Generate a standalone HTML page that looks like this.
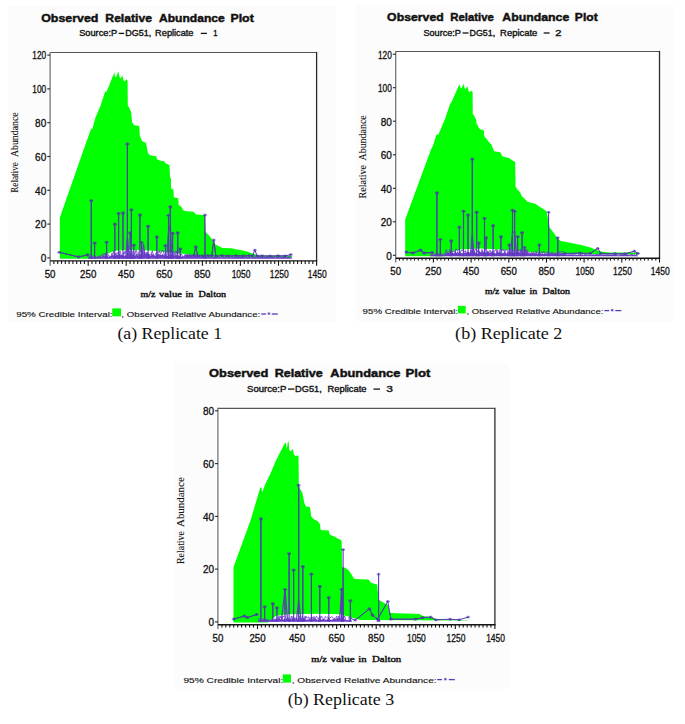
<!DOCTYPE html>
<html><head><meta charset="utf-8">
<style>
html,body{margin:0;padding:0;background:#fff;}
body{width:685px;height:724px;overflow:hidden;}
svg{display:block;}
text{font-family:"Liberation Sans",sans-serif;fill:#111;}
.ti{font-size:12px;font-weight:bold;}
.st{font-size:8.5px;}
.tk{font-size:10px;stroke:#111;stroke-width:0.3px;}
.yl{font-family:"Liberation Serif",serif;font-size:9px;}
.xl{font-family:"Liberation Serif",serif;font-size:9px;font-weight:bold;}
.lg{font-size:7.5px;}
.cp{font-family:"Liberation Serif",serif;font-size:16px;}
</style></head>
<body>
<svg width="685" height="724" viewBox="0 0 685 724">
<rect width="685" height="724" fill="#fff"/>
<rect x="8.3" y="6" width="327" height="316" fill="#fcfcfc"/>
<rect x="356.2" y="4.7" width="317.8" height="317.3" fill="#fcfcfc"/>
<rect x="174" y="363.4" width="335" height="325.6" fill="#fcfcfc"/>
<rect x="50" y="52.5" width="266.6" height="208.4" fill="#fff"/>
<rect x="395.7" y="51.5" width="263.8" height="206.7" fill="#fff"/>
<rect x="217.9" y="408.4" width="277" height="216.3" fill="#fff"/>
<polygon points="59.8,258.7 59.8,217.8 82.6,152.6 89.5,133.3 91.4,128.2 92.2,129.5 95.3,118.1 100.4,105.9 104.5,93.6 105.5,91.1 106.2,92.2 109.6,84.4 112.7,76.2 113.5,75.0 114.2,72.2 115.3,77.5 116.5,76.0 118.3,71.3 119.5,77.0 120.8,78.5 122.3,74.9 123.5,80.5 124.8,81.5 126.5,79.3 127.6,80.5 127.8,105.9 129.0,106.9 130.1,110.0 131.1,112.0 132.1,122.2 133.1,123.8 134.2,125.3 138.2,125.8 139.3,126.3 139.8,135.8 142.0,141.0 146.0,143.0 148.0,153.2 150.1,155.2 156.4,156.3 156.9,159.2 159.8,160.6 164.7,161.6 165.6,163.5 168.5,164.5 169.5,165.5 170.0,177.0 171.0,179.0 171.0,188.6 173.4,189.6 173.8,197.3 178.2,198.3 178.7,205.1 181.6,207.0 183.0,209.9 185.0,210.9 193.6,211.8 195.6,214.3 202.3,215.0 204.8,215.1 205.4,232.1 208.5,234.8 212.0,239.2 215.5,244.4 219.0,246.2 222.5,247.9 231.3,248.3 238.3,249.7 245.3,251.0 250.5,252.7 254.0,254.0 258.0,255.6 292.0,255.8 292.0,258.7 292.0,257.6 210.0,257.6 200.0,256.5 185.0,254.0 165.0,252.0 150.0,250.5 130.0,250.0 115.0,250.8 108.0,253.5 100.0,258.7" fill="#00ff00" />
<clipPath id="gc1"><polygon points="59.8,258.7 59.8,217.8 82.6,152.6 89.5,133.3 91.4,128.2 92.2,129.5 95.3,118.1 100.4,105.9 104.5,93.6 105.5,91.1 106.2,92.2 109.6,84.4 112.7,76.2 113.5,75.0 114.2,72.2 115.3,77.5 116.5,76.0 118.3,71.3 119.5,77.0 120.8,78.5 122.3,74.9 123.5,80.5 124.8,81.5 126.5,79.3 127.6,80.5 127.8,105.9 129.0,106.9 130.1,110.0 131.1,112.0 132.1,122.2 133.1,123.8 134.2,125.3 138.2,125.8 139.3,126.3 139.8,135.8 142.0,141.0 146.0,143.0 148.0,153.2 150.1,155.2 156.4,156.3 156.9,159.2 159.8,160.6 164.7,161.6 165.6,163.5 168.5,164.5 169.5,165.5 170.0,177.0 171.0,179.0 171.0,188.6 173.4,189.6 173.8,197.3 178.2,198.3 178.7,205.1 181.6,207.0 183.0,209.9 185.0,210.9 193.6,211.8 195.6,214.3 202.3,215.0 204.8,215.1 205.4,232.1 208.5,234.8 212.0,239.2 215.5,244.4 219.0,246.2 222.5,247.9 231.3,248.3 238.3,249.7 245.3,251.0 250.5,252.7 254.0,254.0 258.0,255.6 292.0,255.8 292.0,258.7 292.0,257.6 210.0,257.6 200.0,256.5 185.0,254.0 165.0,252.0 150.0,250.5 130.0,250.0 115.0,250.8 108.0,253.5 100.0,258.7" fill="#000" /></clipPath>
<polygon points="88.0,258.7 88.0,257.0 88.9,257.4 89.6,257.4 90.1,256.9 90.7,256.9 91.3,257.2 92.3,256.7 93.4,257.4 94.1,257.3 94.8,256.4 95.6,256.6 96.5,257.4 97.1,256.5 97.8,256.7 98.4,256.4 99.1,256.7 100.1,255.4 101.2,256.7 102.2,256.6 102.7,255.5 103.5,255.1 104.4,255.7 105.2,255.1 106.0,255.5 106.9,255.5 107.9,256.3 108.8,256.9 109.4,256.7 110.4,256.6 111.1,255.1 111.9,255.7 112.9,253.9 113.6,255.3 114.7,255.9 115.3,255.6 116.2,255.6 116.9,255.3 118.0,254.4 118.9,254.4 119.9,254.1 120.9,255.2 121.5,254.5 122.0,255.7 122.7,256.2 123.3,256.0 123.8,253.9 124.4,255.6 125.1,256.0 126.2,255.0 126.8,256.0 127.4,254.0 127.9,253.6 128.5,254.8 129.3,253.6 130.3,255.6 130.9,254.1 131.8,255.4 132.8,253.5 133.8,254.0 134.4,254.9 135.0,256.2 135.6,254.4 136.4,253.7 137.5,255.3 138.1,255.7 139.0,253.8 139.8,254.5 140.3,254.5 141.3,254.2 141.9,254.1 142.9,253.6 143.6,253.6 144.2,255.9 145.2,254.0 146.2,253.6 147.0,254.8 147.5,253.6 148.3,253.7 149.3,254.0 149.9,255.5 150.8,255.6 151.4,253.8 152.2,254.7 152.9,253.7 153.7,254.8 154.5,255.8 155.5,255.8 156.4,254.7 157.2,254.7 157.8,254.7 158.4,254.1 159.3,254.2 160.0,254.6 160.9,254.4 161.7,255.0 162.6,253.8 163.3,254.7 164.3,255.9 165.0,256.1 165.6,254.4 166.6,255.9 167.5,255.9 168.6,255.7 169.3,254.9 170.3,255.8 171.1,255.4 171.8,254.3 172.7,255.1 173.4,254.6 173.9,253.5 175.0,256.0 175.5,254.1 176.1,255.1 177.1,255.6 178.1,254.7 178.7,256.1 179.4,256.1 180.3,255.2 181.3,256.8 182.1,256.2 183.1,256.3 184.0,256.4 184.6,256.8 185.2,256.3 185.9,255.8 186.6,256.9 187.1,255.4 187.8,255.9 188.3,255.2 189.1,255.1 189.9,255.5 190.6,255.2 191.5,256.1 192.0,256.6 193.0,256.4 193.5,255.1 194.4,256.3 195.1,255.9 195.9,256.3 197.0,255.8 198.0,256.2 198.5,256.1 199.3,256.5 199.8,256.3 200.6,256.8 201.3,256.4 202.1,255.3 203.0,255.1 203.7,254.8 204.6,255.5 205.6,256.7 206.6,256.8 207.4,257.2 208.4,256.8 209.4,257.0 210.1,257.7 210.8,257.6 211.6,257.0 212.5,257.2 213.5,256.9 214.3,257.0 215.3,257.5 215.9,256.9 216.9,256.6 217.6,257.2 218.6,257.0 219.1,257.6 220.0,257.4 220.6,257.7 221.5,257.0 222.1,257.2 222.9,257.6 223.5,256.6 224.0,257.2 225.1,257.2 225.7,256.7 226.6,257.6 227.7,257.6 228.5,256.7 229.1,256.7 229.6,257.7 230.4,257.4 231.1,257.4 231.6,256.9 232.2,256.7 233.2,257.4 234.0,256.6 234.7,257.3 235.2,257.6 235.9,256.7 236.5,257.2 237.3,256.7 238.2,257.0 239.3,257.1 239.8,256.9 240.8,257.0 241.3,256.7 242.1,257.4 243.0,256.6 243.9,257.4 244.7,257.6 245.3,256.7 245.9,256.7 246.7,257.6 247.3,257.4 247.9,257.5 248.9,256.9 249.7,257.2 250.4,257.7 251.5,257.6 252.3,256.8 253.0,257.5 253.8,256.7 254.8,257.7 255.7,256.7 256.6,257.7 257.6,256.8 258.7,257.5 259.3,257.2 260.4,256.9 261.3,257.2 261.9,256.9 262.9,257.0 263.5,257.5 264.4,257.6 265.2,257.1 265.8,257.1 266.5,257.2 267.4,256.8 268.1,257.5 269.0,257.4 269.8,257.0 270.4,257.0 271.1,257.7 271.8,257.0 272.8,256.9 273.4,256.7 274.4,257.5 275.4,257.4 276.2,257.5 276.9,257.0 277.5,257.3 278.6,257.6 279.1,257.3 280.2,256.9 281.2,257.4 282.3,256.9 283.2,257.3 283.9,257.6 284.5,257.3 285.1,256.7 285.8,256.8 286.6,257.7 287.3,256.7 288.0,256.7 288.8,256.8 289.3,257.7 290.4,257.5 291.4,257.4 292.0,258.7" fill="#6a3cc8" />
<polyline points="88.0,257.4 88.9,256.3 89.6,256.4 90.1,257.7 90.7,255.6 91.3,256.1 92.3,256.7 93.4,255.5 94.1,257.5 94.8,257.3 95.6,256.7 96.5,257.8 97.1,256.6 97.8,256.5 98.4,255.9 99.1,256.3 100.1,255.8 101.2,255.1 102.2,254.8 102.7,253.6 103.5,255.6 104.4,254.4 105.2,252.9 106.0,257.1 106.9,252.7 107.9,255.3 108.8,254.9 109.4,257.1 110.4,256.0 111.1,256.9 111.9,253.1 112.9,254.6 113.6,250.8 114.7,255.4 115.3,253.2 116.2,257.0 116.9,252.7 118.0,253.0 118.9,256.5 119.9,250.9 120.9,253.8 121.5,256.4 122.0,255.5 122.7,257.0 123.3,254.0 123.8,252.4 124.4,254.1 125.1,251.0 126.2,253.2 126.8,254.2 127.4,255.5 127.9,252.9 128.5,256.7 129.3,250.9 130.3,254.0 130.9,252.9 131.8,255.0 132.8,251.0 133.8,251.6 134.4,254.1 135.0,254.6 135.6,250.4 136.4,250.3 137.5,255.1 138.1,255.2 139.0,251.1 139.8,251.3 140.3,250.7 141.3,253.2 141.9,254.2 142.9,253.8 143.6,251.7 144.2,255.6 145.2,255.6 146.2,252.1 147.0,255.8 147.5,252.2 148.3,253.5 149.3,255.1 149.9,254.9 150.8,253.6 151.4,254.1 152.2,250.7 152.9,253.1 153.7,256.8 154.5,257.0 155.5,253.3 156.4,254.3 157.2,251.4 157.8,254.8 158.4,253.1 159.3,250.7 160.0,253.1 160.9,253.4 161.7,250.5 162.6,250.5 163.3,250.5 164.3,255.9 165.0,254.9 165.6,251.4 166.6,251.8 167.5,250.8 168.6,250.5 169.3,250.3 170.3,253.6 171.1,255.2 171.8,256.8 172.7,256.8 173.4,253.0 173.9,251.4 175.0,254.7 175.5,254.7 176.1,250.7 177.1,255.6 178.1,251.9 178.7,252.0 179.4,250.5 180.3,257.2 181.3,254.1 182.1,255.2 183.1,257.0 184.0,257.1 184.6,256.6 185.2,254.5 185.9,256.8 186.6,256.4 187.1,255.2 187.8,253.9 188.3,255.7 189.1,255.8 189.9,253.8 190.6,254.7 191.5,256.0 192.0,257.3 193.0,256.8 193.5,254.1 194.4,256.5 195.1,256.8 195.9,253.8 197.0,256.4 198.0,256.0 198.5,255.5 199.3,255.4 199.8,257.2 200.6,257.6 201.3,255.1 202.1,254.8 203.0,255.8 203.7,256.9 204.6,257.4 205.6,256.8 206.6,257.8 207.4,256.5 208.4,256.9 209.4,256.7 210.1,257.8 210.8,256.5 211.6,256.8 212.5,258.2 213.5,257.0 214.3,258.0 215.3,258.0 215.9,257.7 216.9,257.1 217.6,256.7 218.6,256.8 219.1,257.6 220.0,256.9 220.6,257.5 221.5,256.7 222.1,257.1 222.9,256.4 223.5,256.3 224.0,256.5 225.1,257.5 225.7,257.6 226.6,257.0 227.7,256.5 228.5,256.7 229.1,257.1 229.6,257.1 230.4,257.8 231.1,256.5 231.6,256.5 232.2,256.7 233.2,257.3 234.0,256.9 234.7,257.5 235.2,256.5 235.9,257.6 236.5,257.7 237.3,256.4 238.2,256.3 239.3,256.7 239.8,257.1 240.8,257.5 241.3,257.8 242.1,257.5 243.0,257.5 243.9,256.9 244.7,257.8 245.3,257.1 245.9,256.2 246.7,257.7 247.3,257.9 247.9,256.9 248.9,257.2 249.7,257.3 250.4,257.5 251.5,257.0 252.3,257.6 253.0,257.2 253.8,256.4 254.8,258.1 255.7,257.1 256.6,257.3 257.6,256.4 258.7,257.9 259.3,256.7 260.4,256.8 261.3,257.0 261.9,257.6 262.9,257.4 263.5,256.8 264.4,258.0 265.2,257.3 265.8,258.2 266.5,256.3 267.4,257.1 268.1,256.3 269.0,258.1 269.8,257.2 270.4,256.3 271.1,257.4 271.8,257.7 272.8,257.0 273.4,257.4 274.4,257.6 275.4,256.3 276.2,257.6 276.9,256.3 277.5,257.6 278.6,258.0 279.1,256.4 280.2,256.2 281.2,257.7 282.3,258.1 283.2,257.3 283.9,258.2 284.5,256.3 285.1,257.7 285.8,256.5 286.6,257.1 287.3,257.7 288.0,258.1 288.8,256.6 289.3,258.0 290.4,256.6 291.4,257.5" fill="none" stroke="#6a3cc8" stroke-width="0.8" />
<polyline points="125.8,257.0 127.4,237.0 129.2,257.0" fill="none" stroke="#6a3cc8" stroke-width="1.3" />
<polyline points="166.8,257.0 168.5,232.0 170.3,225.0 172.0,257.0" fill="none" stroke="#6a3cc8" stroke-width="1.3" />
<polyline points="142.0,257.0 143.5,244.0 145.0,257.0" fill="none" stroke="#6a3cc8" stroke-width="1.3" />
<polygon points="90.0,258.7 91.0,253.4 91.6,254.5 92.6,258.7" fill="#6a3cc8" />
<polygon points="93.3,258.7 94.3,254.8 94.9,256.7 95.9,258.7" fill="#6a3cc8" />
<polygon points="104.5,258.7 106.3,252.8 106.9,254.3 108.7,258.7" fill="#6a3cc8" />
<polygon points="113.8,258.7 114.5,252.0 115.1,254.7 115.8,258.7" fill="#6a3cc8" />
<polygon points="116.5,258.7 118.3,254.1 118.9,254.6 120.7,258.7" fill="#6a3cc8" />
<polygon points="121.7,258.7 122.7,254.5 123.3,255.9 124.3,258.7" fill="#6a3cc8" />
<polygon points="125.3,258.7 127.1,254.0 127.7,256.0 129.5,258.7" fill="#6a3cc8" />
<polygon points="129.5,258.7 131.1,252.6 131.7,253.6 133.3,258.7" fill="#6a3cc8" />
<polygon points="138.2,258.7 139.6,252.7 140.2,254.9 141.6,258.7" fill="#6a3cc8" />
<polygon points="146.7,258.7 147.8,254.8 148.4,255.5 149.5,258.7" fill="#6a3cc8" />
<polygon points="155.6,258.7 156.5,255.8 157.1,256.4 158.0,258.7" fill="#6a3cc8" />
<polygon points="164.4,258.7 165.2,255.1 165.8,256.8 166.6,258.7" fill="#6a3cc8" />
<polygon points="167.1,258.7 168.2,253.7 168.8,254.3 169.9,258.7" fill="#6a3cc8" />
<polygon points="168.1,258.7 170.0,252.2 170.6,254.8 172.5,258.7" fill="#6a3cc8" />
<polygon points="171.5,258.7 172.3,255.8 172.9,256.7 173.7,258.7" fill="#6a3cc8" />
<polygon points="176.2,258.7 177.4,253.0 178.0,255.3 179.2,258.7" fill="#6a3cc8" />
<polygon points="132.1,258.7 133.5,254.3 134.1,255.3 135.5,258.7" fill="#6a3cc8" />
<polygon points="139.5,258.7 141.2,252.8 141.8,254.2 143.5,258.7" fill="#6a3cc8" />
<polygon points="128.2,258.7 129.9,255.7 130.5,256.8 132.2,258.7" fill="#6a3cc8" />
<polygon points="179.0,258.7 180.1,253.6 180.7,254.7 181.8,258.7" fill="#6a3cc8" />
<polygon points="203.7,258.7 204.7,255.3 205.3,256.7 206.3,258.7" fill="#6a3cc8" />
<polyline points="59.1,252.3 78.5,256.9 87.7,254.9" fill="none" stroke="#5a3cb8" stroke-width="1.0" /><path d="M57.3,252.3H60.9M59.1,250.9V253.7" stroke="#5a3cb8" stroke-width="0.9" fill="none"/><path d="M57.8,251.0L60.4,253.6M57.8,253.6L60.4,251.0" stroke="#5a3cb8" stroke-width="0.5" fill="none" opacity="0.6"/><path d="M76.7,256.9H80.3M78.5,255.5V258.3" stroke="#5a3cb8" stroke-width="0.9" fill="none"/><path d="M77.2,255.6L79.8,258.2M77.2,258.2L79.8,255.6" stroke="#5a3cb8" stroke-width="0.5" fill="none" opacity="0.6"/><path d="M85.9,254.9H89.5M87.7,253.5V256.3" stroke="#5a3cb8" stroke-width="0.9" fill="none"/><path d="M86.4,253.6L89.0,256.2M86.4,256.2L89.0,253.6" stroke="#5a3cb8" stroke-width="0.5" fill="none" opacity="0.6"/><polyline points="186.0,255.8 193.7,255.6 195.8,247.0 197.8,255.8 204.0,256.0 208.0,255.6 211.8,255.6 213.8,240.0 215.8,256.0 222.0,255.6 228.0,256.0 236.0,255.6 243.0,256.0 249.0,255.6 252.5,255.8 254.9,250.1 257.2,256.0 262.0,255.8 270.0,256.0 278.0,255.7 285.0,255.9 290.8,254.6" fill="none" stroke="#5a3cb8" stroke-width="1.0" /><path d="M184.2,255.8H187.8M186.0,254.4V257.2" stroke="#5a3cb8" stroke-width="0.9" fill="none"/><path d="M184.7,254.5L187.3,257.1M184.7,257.1L187.3,254.5" stroke="#5a3cb8" stroke-width="0.5" fill="none" opacity="0.6"/><path d="M191.9,255.6H195.5M193.7,254.2V257.0" stroke="#5a3cb8" stroke-width="0.9" fill="none"/><path d="M192.4,254.3L195.0,256.9M192.4,256.9L195.0,254.3" stroke="#5a3cb8" stroke-width="0.5" fill="none" opacity="0.6"/><path d="M194.0,247.0H197.6M195.8,245.6V248.4" stroke="#5a3cb8" stroke-width="0.9" fill="none"/><path d="M194.5,245.7L197.1,248.3M194.5,248.3L197.1,245.7" stroke="#5a3cb8" stroke-width="0.5" fill="none" opacity="0.6"/><path d="M196.0,255.8H199.6M197.8,254.4V257.2" stroke="#5a3cb8" stroke-width="0.9" fill="none"/><path d="M196.5,254.5L199.1,257.1M196.5,257.1L199.1,254.5" stroke="#5a3cb8" stroke-width="0.5" fill="none" opacity="0.6"/><path d="M202.2,256.0H205.8M204.0,254.6V257.4" stroke="#5a3cb8" stroke-width="0.9" fill="none"/><path d="M202.7,254.7L205.3,257.3M202.7,257.3L205.3,254.7" stroke="#5a3cb8" stroke-width="0.5" fill="none" opacity="0.6"/><path d="M206.2,255.6H209.8M208.0,254.2V257.0" stroke="#5a3cb8" stroke-width="0.9" fill="none"/><path d="M206.7,254.3L209.3,256.9M206.7,256.9L209.3,254.3" stroke="#5a3cb8" stroke-width="0.5" fill="none" opacity="0.6"/><path d="M210.0,255.6H213.6M211.8,254.2V257.0" stroke="#5a3cb8" stroke-width="0.9" fill="none"/><path d="M210.5,254.3L213.1,256.9M210.5,256.9L213.1,254.3" stroke="#5a3cb8" stroke-width="0.5" fill="none" opacity="0.6"/><path d="M212.0,240.0H215.6M213.8,238.6V241.4" stroke="#5a3cb8" stroke-width="0.9" fill="none"/><path d="M212.5,238.7L215.1,241.3M212.5,241.3L215.1,238.7" stroke="#5a3cb8" stroke-width="0.5" fill="none" opacity="0.6"/><path d="M214.0,256.0H217.6M215.8,254.6V257.4" stroke="#5a3cb8" stroke-width="0.9" fill="none"/><path d="M214.5,254.7L217.1,257.3M214.5,257.3L217.1,254.7" stroke="#5a3cb8" stroke-width="0.5" fill="none" opacity="0.6"/><path d="M220.2,255.6H223.8M222.0,254.2V257.0" stroke="#5a3cb8" stroke-width="0.9" fill="none"/><path d="M220.7,254.3L223.3,256.9M220.7,256.9L223.3,254.3" stroke="#5a3cb8" stroke-width="0.5" fill="none" opacity="0.6"/><path d="M226.2,256.0H229.8M228.0,254.6V257.4" stroke="#5a3cb8" stroke-width="0.9" fill="none"/><path d="M226.7,254.7L229.3,257.3M226.7,257.3L229.3,254.7" stroke="#5a3cb8" stroke-width="0.5" fill="none" opacity="0.6"/><path d="M234.2,255.6H237.8M236.0,254.2V257.0" stroke="#5a3cb8" stroke-width="0.9" fill="none"/><path d="M234.7,254.3L237.3,256.9M234.7,256.9L237.3,254.3" stroke="#5a3cb8" stroke-width="0.5" fill="none" opacity="0.6"/><path d="M241.2,256.0H244.8M243.0,254.6V257.4" stroke="#5a3cb8" stroke-width="0.9" fill="none"/><path d="M241.7,254.7L244.3,257.3M241.7,257.3L244.3,254.7" stroke="#5a3cb8" stroke-width="0.5" fill="none" opacity="0.6"/><path d="M247.2,255.6H250.8M249.0,254.2V257.0" stroke="#5a3cb8" stroke-width="0.9" fill="none"/><path d="M247.7,254.3L250.3,256.9M247.7,256.9L250.3,254.3" stroke="#5a3cb8" stroke-width="0.5" fill="none" opacity="0.6"/><path d="M250.7,255.8H254.3M252.5,254.4V257.2" stroke="#5a3cb8" stroke-width="0.9" fill="none"/><path d="M251.2,254.5L253.8,257.1M251.2,257.1L253.8,254.5" stroke="#5a3cb8" stroke-width="0.5" fill="none" opacity="0.6"/><path d="M253.1,250.1H256.7M254.9,248.7V251.5" stroke="#5a3cb8" stroke-width="0.9" fill="none"/><path d="M253.6,248.8L256.2,251.4M253.6,251.4L256.2,248.8" stroke="#5a3cb8" stroke-width="0.5" fill="none" opacity="0.6"/><path d="M255.4,256.0H259.0M257.2,254.6V257.4" stroke="#5a3cb8" stroke-width="0.9" fill="none"/><path d="M255.9,254.7L258.5,257.3M255.9,257.3L258.5,254.7" stroke="#5a3cb8" stroke-width="0.5" fill="none" opacity="0.6"/><path d="M260.2,255.8H263.8M262.0,254.4V257.2" stroke="#5a3cb8" stroke-width="0.9" fill="none"/><path d="M260.7,254.5L263.3,257.1M260.7,257.1L263.3,254.5" stroke="#5a3cb8" stroke-width="0.5" fill="none" opacity="0.6"/><path d="M268.2,256.0H271.8M270.0,254.6V257.4" stroke="#5a3cb8" stroke-width="0.9" fill="none"/><path d="M268.7,254.7L271.3,257.3M268.7,257.3L271.3,254.7" stroke="#5a3cb8" stroke-width="0.5" fill="none" opacity="0.6"/><path d="M276.2,255.7H279.8M278.0,254.3V257.1" stroke="#5a3cb8" stroke-width="0.9" fill="none"/><path d="M276.7,254.4L279.3,257.0M276.7,257.0L279.3,254.4" stroke="#5a3cb8" stroke-width="0.5" fill="none" opacity="0.6"/><path d="M283.2,255.9H286.8M285.0,254.5V257.3" stroke="#5a3cb8" stroke-width="0.9" fill="none"/><path d="M283.7,254.6L286.3,257.2M283.7,257.2L286.3,254.6" stroke="#5a3cb8" stroke-width="0.5" fill="none" opacity="0.6"/><path d="M289.0,254.6H292.6M290.8,253.2V256.0" stroke="#5a3cb8" stroke-width="0.9" fill="none"/><path d="M289.5,253.3L292.1,255.9M289.5,255.9L292.1,253.3" stroke="#5a3cb8" stroke-width="0.5" fill="none" opacity="0.6"/><line x1="91.3" y1="258.2" x2="91.3" y2="200.7" stroke="#5a3cb8" stroke-width="1.1"/><path d="M89.5,200.7H93.1M91.3,199.3V202.1" stroke="#5a3cb8" stroke-width="0.9" fill="none"/><path d="M90.0,199.4L92.6,202.0M90.0,202.0L92.6,199.4" stroke="#5a3cb8" stroke-width="0.5" fill="none" opacity="0.6"/><line x1="94.6" y1="258.2" x2="94.6" y2="243.1" stroke="#5a3cb8" stroke-width="1.1"/><path d="M92.8,243.1H96.4M94.6,241.7V244.5" stroke="#5a3cb8" stroke-width="0.9" fill="none"/><path d="M93.3,241.8L95.9,244.4M93.3,244.4L95.9,241.8" stroke="#5a3cb8" stroke-width="0.5" fill="none" opacity="0.6"/><line x1="106.6" y1="258.2" x2="106.6" y2="242.3" stroke="#5a3cb8" stroke-width="1.1"/><path d="M104.8,242.3H108.4M106.6,240.9V243.7" stroke="#5a3cb8" stroke-width="0.9" fill="none"/><path d="M105.3,241.0L107.9,243.6M105.3,243.6L107.9,241.0" stroke="#5a3cb8" stroke-width="0.5" fill="none" opacity="0.6"/><line x1="114.8" y1="258.2" x2="114.8" y2="224.2" stroke="#5a3cb8" stroke-width="1.1"/><path d="M113.0,224.2H116.6M114.8,222.8V225.6" stroke="#5a3cb8" stroke-width="0.9" fill="none"/><path d="M113.5,222.9L116.1,225.5M113.5,225.5L116.1,222.9" stroke="#5a3cb8" stroke-width="0.5" fill="none" opacity="0.6"/><line x1="118.6" y1="258.2" x2="118.6" y2="213.5" stroke="#5a3cb8" stroke-width="1.1"/><path d="M116.8,213.5H120.4M118.6,212.1V214.9" stroke="#5a3cb8" stroke-width="0.9" fill="none"/><path d="M117.3,212.2L119.9,214.8M117.3,214.8L119.9,212.2" stroke="#5a3cb8" stroke-width="0.5" fill="none" opacity="0.6"/><line x1="123.0" y1="258.2" x2="123.0" y2="213.0" stroke="#5a3cb8" stroke-width="1.1"/><path d="M121.2,213.0H124.8M123.0,211.6V214.4" stroke="#5a3cb8" stroke-width="0.9" fill="none"/><path d="M121.7,211.7L124.3,214.3M121.7,214.3L124.3,211.7" stroke="#5a3cb8" stroke-width="0.5" fill="none" opacity="0.6"/><line x1="127.4" y1="258.2" x2="127.4" y2="144.0" stroke="#5a3cb8" stroke-width="1.1"/><path d="M125.6,144.0H129.2M127.4,142.6V145.4" stroke="#5a3cb8" stroke-width="0.9" fill="none"/><path d="M126.1,142.7L128.7,145.3M126.1,145.3L128.7,142.7" stroke="#5a3cb8" stroke-width="0.5" fill="none" opacity="0.6"/><line x1="131.4" y1="258.2" x2="131.4" y2="209.9" stroke="#5a3cb8" stroke-width="1.1"/><path d="M129.6,209.9H133.2M131.4,208.5V211.3" stroke="#5a3cb8" stroke-width="0.9" fill="none"/><path d="M130.1,208.6L132.7,211.2M130.1,211.2L132.7,208.6" stroke="#5a3cb8" stroke-width="0.5" fill="none" opacity="0.6"/><line x1="139.9" y1="258.2" x2="139.9" y2="215.0" stroke="#5a3cb8" stroke-width="1.1"/><path d="M138.1,215.0H141.7M139.9,213.6V216.4" stroke="#5a3cb8" stroke-width="0.9" fill="none"/><path d="M138.6,213.7L141.2,216.3M138.6,216.3L141.2,213.7" stroke="#5a3cb8" stroke-width="0.5" fill="none" opacity="0.6"/><line x1="148.1" y1="258.2" x2="148.1" y2="226.3" stroke="#5a3cb8" stroke-width="1.1"/><path d="M146.3,226.3H149.9M148.1,224.9V227.7" stroke="#5a3cb8" stroke-width="0.9" fill="none"/><path d="M146.8,225.0L149.4,227.6M146.8,227.6L149.4,225.0" stroke="#5a3cb8" stroke-width="0.5" fill="none" opacity="0.6"/><line x1="156.8" y1="258.2" x2="156.8" y2="237.0" stroke="#5a3cb8" stroke-width="1.1"/><path d="M155.0,237.0H158.6M156.8,235.6V238.4" stroke="#5a3cb8" stroke-width="0.9" fill="none"/><path d="M155.5,235.7L158.1,238.3M155.5,238.3L158.1,235.7" stroke="#5a3cb8" stroke-width="0.5" fill="none" opacity="0.6"/><line x1="165.5" y1="258.2" x2="165.5" y2="245.7" stroke="#5a3cb8" stroke-width="1.1"/><path d="M163.7,245.7H167.3M165.5,244.3V247.1" stroke="#5a3cb8" stroke-width="0.9" fill="none"/><path d="M164.2,244.4L166.8,247.0M164.2,247.0L166.8,244.4" stroke="#5a3cb8" stroke-width="0.5" fill="none" opacity="0.6"/><line x1="168.5" y1="258.2" x2="168.5" y2="215.5" stroke="#5a3cb8" stroke-width="1.1"/><path d="M166.7,215.5H170.3M168.5,214.1V216.9" stroke="#5a3cb8" stroke-width="0.9" fill="none"/><path d="M167.2,214.2L169.8,216.8M167.2,216.8L169.8,214.2" stroke="#5a3cb8" stroke-width="0.5" fill="none" opacity="0.6"/><line x1="170.3" y1="258.2" x2="170.3" y2="206.9" stroke="#5a3cb8" stroke-width="1.1"/><path d="M168.5,206.9H172.1M170.3,205.5V208.3" stroke="#5a3cb8" stroke-width="0.9" fill="none"/><path d="M169.0,205.6L171.6,208.2M169.0,208.2L171.6,205.6" stroke="#5a3cb8" stroke-width="0.5" fill="none" opacity="0.6"/><line x1="172.6" y1="258.2" x2="172.6" y2="233.4" stroke="#5a3cb8" stroke-width="1.1"/><path d="M170.8,233.4H174.4M172.6,232.0V234.8" stroke="#5a3cb8" stroke-width="0.9" fill="none"/><path d="M171.3,232.1L173.9,234.7M171.3,234.7L173.9,232.1" stroke="#5a3cb8" stroke-width="0.5" fill="none" opacity="0.6"/><line x1="177.7" y1="258.2" x2="177.7" y2="232.9" stroke="#5a3cb8" stroke-width="1.1"/><path d="M175.9,232.9H179.5M177.7,231.5V234.3" stroke="#5a3cb8" stroke-width="0.9" fill="none"/><path d="M176.4,231.6L179.0,234.2M176.4,234.2L179.0,231.6" stroke="#5a3cb8" stroke-width="0.5" fill="none" opacity="0.6"/><line x1="133.8" y1="258.2" x2="133.8" y2="245.2" stroke="#5a3cb8" stroke-width="1.1"/><path d="M132.0,245.2H135.6M133.8,243.8V246.6" stroke="#5a3cb8" stroke-width="0.9" fill="none"/><path d="M132.5,243.9L135.1,246.5M132.5,246.5L135.1,243.9" stroke="#5a3cb8" stroke-width="0.5" fill="none" opacity="0.6"/><line x1="141.5" y1="258.2" x2="141.5" y2="242.6" stroke="#5a3cb8" stroke-width="1.1"/><path d="M139.7,242.6H143.3M141.5,241.2V244.0" stroke="#5a3cb8" stroke-width="0.9" fill="none"/><path d="M140.2,241.3L142.8,243.9M140.2,243.9L142.8,241.3" stroke="#5a3cb8" stroke-width="0.5" fill="none" opacity="0.6"/><line x1="130.2" y1="258.2" x2="130.2" y2="232.9" stroke="#5a3cb8" stroke-width="1.1"/><path d="M128.4,232.9H132.0M130.2,231.5V234.3" stroke="#5a3cb8" stroke-width="0.9" fill="none"/><path d="M128.9,231.6L131.5,234.2M128.9,234.2L131.5,231.6" stroke="#5a3cb8" stroke-width="0.5" fill="none" opacity="0.6"/><line x1="180.4" y1="258.2" x2="180.4" y2="249.0" stroke="#5a3cb8" stroke-width="1.1"/><path d="M178.6,249.0H182.2M180.4,247.6V250.4" stroke="#5a3cb8" stroke-width="0.9" fill="none"/><path d="M179.1,247.7L181.7,250.3M179.1,250.3L181.7,247.7" stroke="#5a3cb8" stroke-width="0.5" fill="none" opacity="0.6"/><line x1="205.0" y1="258.2" x2="205.0" y2="215.0" stroke="#5a3cb8" stroke-width="1.1"/><path d="M203.2,215.0H206.8M205.0,213.6V216.4" stroke="#5a3cb8" stroke-width="0.9" fill="none"/><path d="M203.7,213.7L206.3,216.3M203.7,216.3L206.3,213.7" stroke="#5a3cb8" stroke-width="0.5" fill="none" opacity="0.6"/>
<g clip-path="url(#gc1)"><polyline points="59.1,252.3 78.5,256.9 87.7,254.9" fill="none" stroke="#464a96" stroke-width="1.0" /><path d="M57.3,252.3H60.9M59.1,250.9V253.7" stroke="#464a96" stroke-width="0.9" fill="none"/><path d="M57.8,251.0L60.4,253.6M57.8,253.6L60.4,251.0" stroke="#464a96" stroke-width="0.5" fill="none" opacity="0.6"/><path d="M76.7,256.9H80.3M78.5,255.5V258.3" stroke="#464a96" stroke-width="0.9" fill="none"/><path d="M77.2,255.6L79.8,258.2M77.2,258.2L79.8,255.6" stroke="#464a96" stroke-width="0.5" fill="none" opacity="0.6"/><path d="M85.9,254.9H89.5M87.7,253.5V256.3" stroke="#464a96" stroke-width="0.9" fill="none"/><path d="M86.4,253.6L89.0,256.2M86.4,256.2L89.0,253.6" stroke="#464a96" stroke-width="0.5" fill="none" opacity="0.6"/><polyline points="186.0,255.8 193.7,255.6 195.8,247.0 197.8,255.8 204.0,256.0 208.0,255.6 211.8,255.6 213.8,240.0 215.8,256.0 222.0,255.6 228.0,256.0 236.0,255.6 243.0,256.0 249.0,255.6 252.5,255.8 254.9,250.1 257.2,256.0 262.0,255.8 270.0,256.0 278.0,255.7 285.0,255.9 290.8,254.6" fill="none" stroke="#464a96" stroke-width="1.0" /><path d="M184.2,255.8H187.8M186.0,254.4V257.2" stroke="#464a96" stroke-width="0.9" fill="none"/><path d="M184.7,254.5L187.3,257.1M184.7,257.1L187.3,254.5" stroke="#464a96" stroke-width="0.5" fill="none" opacity="0.6"/><path d="M191.9,255.6H195.5M193.7,254.2V257.0" stroke="#464a96" stroke-width="0.9" fill="none"/><path d="M192.4,254.3L195.0,256.9M192.4,256.9L195.0,254.3" stroke="#464a96" stroke-width="0.5" fill="none" opacity="0.6"/><path d="M194.0,247.0H197.6M195.8,245.6V248.4" stroke="#464a96" stroke-width="0.9" fill="none"/><path d="M194.5,245.7L197.1,248.3M194.5,248.3L197.1,245.7" stroke="#464a96" stroke-width="0.5" fill="none" opacity="0.6"/><path d="M196.0,255.8H199.6M197.8,254.4V257.2" stroke="#464a96" stroke-width="0.9" fill="none"/><path d="M196.5,254.5L199.1,257.1M196.5,257.1L199.1,254.5" stroke="#464a96" stroke-width="0.5" fill="none" opacity="0.6"/><path d="M202.2,256.0H205.8M204.0,254.6V257.4" stroke="#464a96" stroke-width="0.9" fill="none"/><path d="M202.7,254.7L205.3,257.3M202.7,257.3L205.3,254.7" stroke="#464a96" stroke-width="0.5" fill="none" opacity="0.6"/><path d="M206.2,255.6H209.8M208.0,254.2V257.0" stroke="#464a96" stroke-width="0.9" fill="none"/><path d="M206.7,254.3L209.3,256.9M206.7,256.9L209.3,254.3" stroke="#464a96" stroke-width="0.5" fill="none" opacity="0.6"/><path d="M210.0,255.6H213.6M211.8,254.2V257.0" stroke="#464a96" stroke-width="0.9" fill="none"/><path d="M210.5,254.3L213.1,256.9M210.5,256.9L213.1,254.3" stroke="#464a96" stroke-width="0.5" fill="none" opacity="0.6"/><path d="M212.0,240.0H215.6M213.8,238.6V241.4" stroke="#464a96" stroke-width="0.9" fill="none"/><path d="M212.5,238.7L215.1,241.3M212.5,241.3L215.1,238.7" stroke="#464a96" stroke-width="0.5" fill="none" opacity="0.6"/><path d="M214.0,256.0H217.6M215.8,254.6V257.4" stroke="#464a96" stroke-width="0.9" fill="none"/><path d="M214.5,254.7L217.1,257.3M214.5,257.3L217.1,254.7" stroke="#464a96" stroke-width="0.5" fill="none" opacity="0.6"/><path d="M220.2,255.6H223.8M222.0,254.2V257.0" stroke="#464a96" stroke-width="0.9" fill="none"/><path d="M220.7,254.3L223.3,256.9M220.7,256.9L223.3,254.3" stroke="#464a96" stroke-width="0.5" fill="none" opacity="0.6"/><path d="M226.2,256.0H229.8M228.0,254.6V257.4" stroke="#464a96" stroke-width="0.9" fill="none"/><path d="M226.7,254.7L229.3,257.3M226.7,257.3L229.3,254.7" stroke="#464a96" stroke-width="0.5" fill="none" opacity="0.6"/><path d="M234.2,255.6H237.8M236.0,254.2V257.0" stroke="#464a96" stroke-width="0.9" fill="none"/><path d="M234.7,254.3L237.3,256.9M234.7,256.9L237.3,254.3" stroke="#464a96" stroke-width="0.5" fill="none" opacity="0.6"/><path d="M241.2,256.0H244.8M243.0,254.6V257.4" stroke="#464a96" stroke-width="0.9" fill="none"/><path d="M241.7,254.7L244.3,257.3M241.7,257.3L244.3,254.7" stroke="#464a96" stroke-width="0.5" fill="none" opacity="0.6"/><path d="M247.2,255.6H250.8M249.0,254.2V257.0" stroke="#464a96" stroke-width="0.9" fill="none"/><path d="M247.7,254.3L250.3,256.9M247.7,256.9L250.3,254.3" stroke="#464a96" stroke-width="0.5" fill="none" opacity="0.6"/><path d="M250.7,255.8H254.3M252.5,254.4V257.2" stroke="#464a96" stroke-width="0.9" fill="none"/><path d="M251.2,254.5L253.8,257.1M251.2,257.1L253.8,254.5" stroke="#464a96" stroke-width="0.5" fill="none" opacity="0.6"/><path d="M253.1,250.1H256.7M254.9,248.7V251.5" stroke="#464a96" stroke-width="0.9" fill="none"/><path d="M253.6,248.8L256.2,251.4M253.6,251.4L256.2,248.8" stroke="#464a96" stroke-width="0.5" fill="none" opacity="0.6"/><path d="M255.4,256.0H259.0M257.2,254.6V257.4" stroke="#464a96" stroke-width="0.9" fill="none"/><path d="M255.9,254.7L258.5,257.3M255.9,257.3L258.5,254.7" stroke="#464a96" stroke-width="0.5" fill="none" opacity="0.6"/><path d="M260.2,255.8H263.8M262.0,254.4V257.2" stroke="#464a96" stroke-width="0.9" fill="none"/><path d="M260.7,254.5L263.3,257.1M260.7,257.1L263.3,254.5" stroke="#464a96" stroke-width="0.5" fill="none" opacity="0.6"/><path d="M268.2,256.0H271.8M270.0,254.6V257.4" stroke="#464a96" stroke-width="0.9" fill="none"/><path d="M268.7,254.7L271.3,257.3M268.7,257.3L271.3,254.7" stroke="#464a96" stroke-width="0.5" fill="none" opacity="0.6"/><path d="M276.2,255.7H279.8M278.0,254.3V257.1" stroke="#464a96" stroke-width="0.9" fill="none"/><path d="M276.7,254.4L279.3,257.0M276.7,257.0L279.3,254.4" stroke="#464a96" stroke-width="0.5" fill="none" opacity="0.6"/><path d="M283.2,255.9H286.8M285.0,254.5V257.3" stroke="#464a96" stroke-width="0.9" fill="none"/><path d="M283.7,254.6L286.3,257.2M283.7,257.2L286.3,254.6" stroke="#464a96" stroke-width="0.5" fill="none" opacity="0.6"/><path d="M289.0,254.6H292.6M290.8,253.2V256.0" stroke="#464a96" stroke-width="0.9" fill="none"/><path d="M289.5,253.3L292.1,255.9M289.5,255.9L292.1,253.3" stroke="#464a96" stroke-width="0.5" fill="none" opacity="0.6"/><line x1="91.3" y1="258.2" x2="91.3" y2="200.7" stroke="#464a96" stroke-width="1.1"/><path d="M89.5,200.7H93.1M91.3,199.3V202.1" stroke="#464a96" stroke-width="0.9" fill="none"/><path d="M90.0,199.4L92.6,202.0M90.0,202.0L92.6,199.4" stroke="#464a96" stroke-width="0.5" fill="none" opacity="0.6"/><line x1="94.6" y1="258.2" x2="94.6" y2="243.1" stroke="#464a96" stroke-width="1.1"/><path d="M92.8,243.1H96.4M94.6,241.7V244.5" stroke="#464a96" stroke-width="0.9" fill="none"/><path d="M93.3,241.8L95.9,244.4M93.3,244.4L95.9,241.8" stroke="#464a96" stroke-width="0.5" fill="none" opacity="0.6"/><line x1="106.6" y1="258.2" x2="106.6" y2="242.3" stroke="#464a96" stroke-width="1.1"/><path d="M104.8,242.3H108.4M106.6,240.9V243.7" stroke="#464a96" stroke-width="0.9" fill="none"/><path d="M105.3,241.0L107.9,243.6M105.3,243.6L107.9,241.0" stroke="#464a96" stroke-width="0.5" fill="none" opacity="0.6"/><line x1="114.8" y1="258.2" x2="114.8" y2="224.2" stroke="#464a96" stroke-width="1.1"/><path d="M113.0,224.2H116.6M114.8,222.8V225.6" stroke="#464a96" stroke-width="0.9" fill="none"/><path d="M113.5,222.9L116.1,225.5M113.5,225.5L116.1,222.9" stroke="#464a96" stroke-width="0.5" fill="none" opacity="0.6"/><line x1="118.6" y1="258.2" x2="118.6" y2="213.5" stroke="#464a96" stroke-width="1.1"/><path d="M116.8,213.5H120.4M118.6,212.1V214.9" stroke="#464a96" stroke-width="0.9" fill="none"/><path d="M117.3,212.2L119.9,214.8M117.3,214.8L119.9,212.2" stroke="#464a96" stroke-width="0.5" fill="none" opacity="0.6"/><line x1="123.0" y1="258.2" x2="123.0" y2="213.0" stroke="#464a96" stroke-width="1.1"/><path d="M121.2,213.0H124.8M123.0,211.6V214.4" stroke="#464a96" stroke-width="0.9" fill="none"/><path d="M121.7,211.7L124.3,214.3M121.7,214.3L124.3,211.7" stroke="#464a96" stroke-width="0.5" fill="none" opacity="0.6"/><line x1="127.4" y1="258.2" x2="127.4" y2="144.0" stroke="#464a96" stroke-width="1.1"/><path d="M125.6,144.0H129.2M127.4,142.6V145.4" stroke="#464a96" stroke-width="0.9" fill="none"/><path d="M126.1,142.7L128.7,145.3M126.1,145.3L128.7,142.7" stroke="#464a96" stroke-width="0.5" fill="none" opacity="0.6"/><line x1="131.4" y1="258.2" x2="131.4" y2="209.9" stroke="#464a96" stroke-width="1.1"/><path d="M129.6,209.9H133.2M131.4,208.5V211.3" stroke="#464a96" stroke-width="0.9" fill="none"/><path d="M130.1,208.6L132.7,211.2M130.1,211.2L132.7,208.6" stroke="#464a96" stroke-width="0.5" fill="none" opacity="0.6"/><line x1="139.9" y1="258.2" x2="139.9" y2="215.0" stroke="#464a96" stroke-width="1.1"/><path d="M138.1,215.0H141.7M139.9,213.6V216.4" stroke="#464a96" stroke-width="0.9" fill="none"/><path d="M138.6,213.7L141.2,216.3M138.6,216.3L141.2,213.7" stroke="#464a96" stroke-width="0.5" fill="none" opacity="0.6"/><line x1="148.1" y1="258.2" x2="148.1" y2="226.3" stroke="#464a96" stroke-width="1.1"/><path d="M146.3,226.3H149.9M148.1,224.9V227.7" stroke="#464a96" stroke-width="0.9" fill="none"/><path d="M146.8,225.0L149.4,227.6M146.8,227.6L149.4,225.0" stroke="#464a96" stroke-width="0.5" fill="none" opacity="0.6"/><line x1="156.8" y1="258.2" x2="156.8" y2="237.0" stroke="#464a96" stroke-width="1.1"/><path d="M155.0,237.0H158.6M156.8,235.6V238.4" stroke="#464a96" stroke-width="0.9" fill="none"/><path d="M155.5,235.7L158.1,238.3M155.5,238.3L158.1,235.7" stroke="#464a96" stroke-width="0.5" fill="none" opacity="0.6"/><line x1="165.5" y1="258.2" x2="165.5" y2="245.7" stroke="#464a96" stroke-width="1.1"/><path d="M163.7,245.7H167.3M165.5,244.3V247.1" stroke="#464a96" stroke-width="0.9" fill="none"/><path d="M164.2,244.4L166.8,247.0M164.2,247.0L166.8,244.4" stroke="#464a96" stroke-width="0.5" fill="none" opacity="0.6"/><line x1="168.5" y1="258.2" x2="168.5" y2="215.5" stroke="#464a96" stroke-width="1.1"/><path d="M166.7,215.5H170.3M168.5,214.1V216.9" stroke="#464a96" stroke-width="0.9" fill="none"/><path d="M167.2,214.2L169.8,216.8M167.2,216.8L169.8,214.2" stroke="#464a96" stroke-width="0.5" fill="none" opacity="0.6"/><line x1="170.3" y1="258.2" x2="170.3" y2="206.9" stroke="#464a96" stroke-width="1.1"/><path d="M168.5,206.9H172.1M170.3,205.5V208.3" stroke="#464a96" stroke-width="0.9" fill="none"/><path d="M169.0,205.6L171.6,208.2M169.0,208.2L171.6,205.6" stroke="#464a96" stroke-width="0.5" fill="none" opacity="0.6"/><line x1="172.6" y1="258.2" x2="172.6" y2="233.4" stroke="#464a96" stroke-width="1.1"/><path d="M170.8,233.4H174.4M172.6,232.0V234.8" stroke="#464a96" stroke-width="0.9" fill="none"/><path d="M171.3,232.1L173.9,234.7M171.3,234.7L173.9,232.1" stroke="#464a96" stroke-width="0.5" fill="none" opacity="0.6"/><line x1="177.7" y1="258.2" x2="177.7" y2="232.9" stroke="#464a96" stroke-width="1.1"/><path d="M175.9,232.9H179.5M177.7,231.5V234.3" stroke="#464a96" stroke-width="0.9" fill="none"/><path d="M176.4,231.6L179.0,234.2M176.4,234.2L179.0,231.6" stroke="#464a96" stroke-width="0.5" fill="none" opacity="0.6"/><line x1="133.8" y1="258.2" x2="133.8" y2="245.2" stroke="#464a96" stroke-width="1.1"/><path d="M132.0,245.2H135.6M133.8,243.8V246.6" stroke="#464a96" stroke-width="0.9" fill="none"/><path d="M132.5,243.9L135.1,246.5M132.5,246.5L135.1,243.9" stroke="#464a96" stroke-width="0.5" fill="none" opacity="0.6"/><line x1="141.5" y1="258.2" x2="141.5" y2="242.6" stroke="#464a96" stroke-width="1.1"/><path d="M139.7,242.6H143.3M141.5,241.2V244.0" stroke="#464a96" stroke-width="0.9" fill="none"/><path d="M140.2,241.3L142.8,243.9M140.2,243.9L142.8,241.3" stroke="#464a96" stroke-width="0.5" fill="none" opacity="0.6"/><line x1="130.2" y1="258.2" x2="130.2" y2="232.9" stroke="#464a96" stroke-width="1.1"/><path d="M128.4,232.9H132.0M130.2,231.5V234.3" stroke="#464a96" stroke-width="0.9" fill="none"/><path d="M128.9,231.6L131.5,234.2M128.9,234.2L131.5,231.6" stroke="#464a96" stroke-width="0.5" fill="none" opacity="0.6"/><line x1="180.4" y1="258.2" x2="180.4" y2="249.0" stroke="#464a96" stroke-width="1.1"/><path d="M178.6,249.0H182.2M180.4,247.6V250.4" stroke="#464a96" stroke-width="0.9" fill="none"/><path d="M179.1,247.7L181.7,250.3M179.1,250.3L181.7,247.7" stroke="#464a96" stroke-width="0.5" fill="none" opacity="0.6"/><line x1="205.0" y1="258.2" x2="205.0" y2="215.0" stroke="#464a96" stroke-width="1.1"/><path d="M203.2,215.0H206.8M205.0,213.6V216.4" stroke="#464a96" stroke-width="0.9" fill="none"/><path d="M203.7,213.7L206.3,216.3M203.7,216.3L206.3,213.7" stroke="#464a96" stroke-width="0.5" fill="none" opacity="0.6"/></g>
<line x1="50.1" y1="52.5" x2="316.6" y2="52.5" stroke="#555" stroke-width="1.2"/>
<line x1="316.6" y1="51.9" x2="316.6" y2="260.9" stroke="#2a2a2a" stroke-width="1.3"/>
<line x1="50.1" y1="51.9" x2="50.1" y2="265.7" stroke="#777" stroke-width="1.3"/>
<line x1="50.1" y1="260.9" x2="317.2" y2="260.9" stroke="#151515" stroke-width="1.4"/>
<line x1="53.9" y1="260.9" x2="53.9" y2="263.9" stroke="#151515" stroke-width="1.1"/>
<line x1="57.7" y1="260.9" x2="57.7" y2="263.9" stroke="#151515" stroke-width="1.1"/>
<line x1="61.5" y1="260.9" x2="61.5" y2="263.9" stroke="#151515" stroke-width="1.1"/>
<line x1="65.3" y1="260.9" x2="65.3" y2="263.9" stroke="#151515" stroke-width="1.1"/>
<line x1="69.1" y1="260.9" x2="69.1" y2="263.9" stroke="#151515" stroke-width="1.1"/>
<line x1="72.9" y1="260.9" x2="72.9" y2="263.9" stroke="#151515" stroke-width="1.1"/>
<line x1="76.7" y1="260.9" x2="76.7" y2="263.9" stroke="#151515" stroke-width="1.1"/>
<line x1="80.6" y1="260.9" x2="80.6" y2="263.9" stroke="#151515" stroke-width="1.1"/>
<line x1="84.4" y1="260.9" x2="84.4" y2="263.9" stroke="#151515" stroke-width="1.1"/>
<line x1="88.2" y1="260.9" x2="88.2" y2="265.7" stroke="#151515" stroke-width="1.1"/>
<line x1="92.0" y1="260.9" x2="92.0" y2="263.9" stroke="#151515" stroke-width="1.1"/>
<line x1="95.8" y1="260.9" x2="95.8" y2="263.9" stroke="#151515" stroke-width="1.1"/>
<line x1="99.6" y1="260.9" x2="99.6" y2="263.9" stroke="#151515" stroke-width="1.1"/>
<line x1="103.4" y1="260.9" x2="103.4" y2="263.9" stroke="#151515" stroke-width="1.1"/>
<line x1="107.2" y1="260.9" x2="107.2" y2="263.9" stroke="#151515" stroke-width="1.1"/>
<line x1="111.0" y1="260.9" x2="111.0" y2="263.9" stroke="#151515" stroke-width="1.1"/>
<line x1="114.8" y1="260.9" x2="114.8" y2="263.9" stroke="#151515" stroke-width="1.1"/>
<line x1="118.6" y1="260.9" x2="118.6" y2="263.9" stroke="#151515" stroke-width="1.1"/>
<line x1="122.4" y1="260.9" x2="122.4" y2="263.9" stroke="#151515" stroke-width="1.1"/>
<line x1="126.2" y1="260.9" x2="126.2" y2="265.7" stroke="#151515" stroke-width="1.1"/>
<line x1="130.0" y1="260.9" x2="130.0" y2="263.9" stroke="#151515" stroke-width="1.1"/>
<line x1="133.9" y1="260.9" x2="133.9" y2="263.9" stroke="#151515" stroke-width="1.1"/>
<line x1="137.7" y1="260.9" x2="137.7" y2="263.9" stroke="#151515" stroke-width="1.1"/>
<line x1="141.5" y1="260.9" x2="141.5" y2="263.9" stroke="#151515" stroke-width="1.1"/>
<line x1="145.3" y1="260.9" x2="145.3" y2="263.9" stroke="#151515" stroke-width="1.1"/>
<line x1="149.1" y1="260.9" x2="149.1" y2="263.9" stroke="#151515" stroke-width="1.1"/>
<line x1="152.9" y1="260.9" x2="152.9" y2="263.9" stroke="#151515" stroke-width="1.1"/>
<line x1="156.7" y1="260.9" x2="156.7" y2="263.9" stroke="#151515" stroke-width="1.1"/>
<line x1="160.5" y1="260.9" x2="160.5" y2="263.9" stroke="#151515" stroke-width="1.1"/>
<line x1="164.3" y1="260.9" x2="164.3" y2="265.7" stroke="#151515" stroke-width="1.1"/>
<line x1="168.1" y1="260.9" x2="168.1" y2="263.9" stroke="#151515" stroke-width="1.1"/>
<line x1="171.9" y1="260.9" x2="171.9" y2="263.9" stroke="#151515" stroke-width="1.1"/>
<line x1="175.7" y1="260.9" x2="175.7" y2="263.9" stroke="#151515" stroke-width="1.1"/>
<line x1="179.5" y1="260.9" x2="179.5" y2="263.9" stroke="#151515" stroke-width="1.1"/>
<line x1="183.3" y1="260.9" x2="183.3" y2="263.9" stroke="#151515" stroke-width="1.1"/>
<line x1="187.2" y1="260.9" x2="187.2" y2="263.9" stroke="#151515" stroke-width="1.1"/>
<line x1="191.0" y1="260.9" x2="191.0" y2="263.9" stroke="#151515" stroke-width="1.1"/>
<line x1="194.8" y1="260.9" x2="194.8" y2="263.9" stroke="#151515" stroke-width="1.1"/>
<line x1="198.6" y1="260.9" x2="198.6" y2="263.9" stroke="#151515" stroke-width="1.1"/>
<line x1="202.4" y1="260.9" x2="202.4" y2="265.7" stroke="#151515" stroke-width="1.1"/>
<line x1="206.2" y1="260.9" x2="206.2" y2="263.9" stroke="#151515" stroke-width="1.1"/>
<line x1="210.0" y1="260.9" x2="210.0" y2="263.9" stroke="#151515" stroke-width="1.1"/>
<line x1="213.8" y1="260.9" x2="213.8" y2="263.9" stroke="#151515" stroke-width="1.1"/>
<line x1="217.6" y1="260.9" x2="217.6" y2="263.9" stroke="#151515" stroke-width="1.1"/>
<line x1="221.4" y1="260.9" x2="221.4" y2="263.9" stroke="#151515" stroke-width="1.1"/>
<line x1="225.2" y1="260.9" x2="225.2" y2="263.9" stroke="#151515" stroke-width="1.1"/>
<line x1="229.0" y1="260.9" x2="229.0" y2="263.9" stroke="#151515" stroke-width="1.1"/>
<line x1="232.8" y1="260.9" x2="232.8" y2="263.9" stroke="#151515" stroke-width="1.1"/>
<line x1="236.6" y1="260.9" x2="236.6" y2="263.9" stroke="#151515" stroke-width="1.1"/>
<line x1="240.4" y1="260.9" x2="240.4" y2="265.7" stroke="#151515" stroke-width="1.1"/>
<line x1="244.3" y1="260.9" x2="244.3" y2="263.9" stroke="#151515" stroke-width="1.1"/>
<line x1="248.1" y1="260.9" x2="248.1" y2="263.9" stroke="#151515" stroke-width="1.1"/>
<line x1="251.9" y1="260.9" x2="251.9" y2="263.9" stroke="#151515" stroke-width="1.1"/>
<line x1="255.7" y1="260.9" x2="255.7" y2="263.9" stroke="#151515" stroke-width="1.1"/>
<line x1="259.5" y1="260.9" x2="259.5" y2="263.9" stroke="#151515" stroke-width="1.1"/>
<line x1="263.3" y1="260.9" x2="263.3" y2="263.9" stroke="#151515" stroke-width="1.1"/>
<line x1="267.1" y1="260.9" x2="267.1" y2="263.9" stroke="#151515" stroke-width="1.1"/>
<line x1="270.9" y1="260.9" x2="270.9" y2="263.9" stroke="#151515" stroke-width="1.1"/>
<line x1="274.7" y1="260.9" x2="274.7" y2="263.9" stroke="#151515" stroke-width="1.1"/>
<line x1="278.5" y1="260.9" x2="278.5" y2="265.7" stroke="#151515" stroke-width="1.1"/>
<line x1="282.3" y1="260.9" x2="282.3" y2="263.9" stroke="#151515" stroke-width="1.1"/>
<line x1="286.1" y1="260.9" x2="286.1" y2="263.9" stroke="#151515" stroke-width="1.1"/>
<line x1="289.9" y1="260.9" x2="289.9" y2="263.9" stroke="#151515" stroke-width="1.1"/>
<line x1="293.7" y1="260.9" x2="293.7" y2="263.9" stroke="#151515" stroke-width="1.1"/>
<line x1="297.6" y1="260.9" x2="297.6" y2="263.9" stroke="#151515" stroke-width="1.1"/>
<line x1="301.4" y1="260.9" x2="301.4" y2="263.9" stroke="#151515" stroke-width="1.1"/>
<line x1="305.2" y1="260.9" x2="305.2" y2="263.9" stroke="#151515" stroke-width="1.1"/>
<line x1="309.0" y1="260.9" x2="309.0" y2="263.9" stroke="#151515" stroke-width="1.1"/>
<line x1="312.8" y1="260.9" x2="312.8" y2="263.9" stroke="#151515" stroke-width="1.1"/>
<line x1="316.6" y1="260.9" x2="316.6" y2="265.7" stroke="#151515" stroke-width="1.1"/>
<text transform="translate(50.1,278.2) scale(0.97,1)" text-anchor="middle" class="tk">50</text>
<text transform="translate(88.2,278.2) scale(0.97,1)" text-anchor="middle" class="tk">250</text>
<text transform="translate(126.2,278.2) scale(0.97,1)" text-anchor="middle" class="tk">450</text>
<text transform="translate(164.3,278.2) scale(0.97,1)" text-anchor="middle" class="tk">650</text>
<text transform="translate(202.4,278.2) scale(0.97,1)" text-anchor="middle" class="tk">850</text>
<text transform="translate(241.1,278.2) scale(0.85,1)" text-anchor="middle" class="tk">1050</text>
<text transform="translate(279.2,278.2) scale(0.85,1)" text-anchor="middle" class="tk">1250</text>
<text transform="translate(317.3,278.2) scale(0.85,1)" text-anchor="middle" class="tk">1450</text>
<line x1="47.3" y1="257.9" x2="50.1" y2="257.9" stroke="#222" stroke-width="1.1"/>
<text transform="translate(46.2,262.2) scale(1.0,1)" text-anchor="end" class="tk">0</text>
<line x1="47.3" y1="224.1" x2="50.1" y2="224.1" stroke="#222" stroke-width="1.1"/>
<text transform="translate(46.2,228.4) scale(1.0,1)" text-anchor="end" class="tk">20</text>
<line x1="47.3" y1="190.3" x2="50.1" y2="190.3" stroke="#222" stroke-width="1.1"/>
<text transform="translate(46.2,194.6) scale(1.0,1)" text-anchor="end" class="tk">40</text>
<line x1="47.3" y1="156.5" x2="50.1" y2="156.5" stroke="#222" stroke-width="1.1"/>
<text transform="translate(46.2,160.8) scale(1.0,1)" text-anchor="end" class="tk">60</text>
<line x1="47.3" y1="122.7" x2="50.1" y2="122.7" stroke="#222" stroke-width="1.1"/>
<text transform="translate(46.2,127.0) scale(1.0,1)" text-anchor="end" class="tk">80</text>
<line x1="47.3" y1="88.9" x2="50.1" y2="88.9" stroke="#222" stroke-width="1.1"/>
<text transform="translate(46.2,93.2) scale(0.83,1)" text-anchor="end" class="tk">100</text>
<line x1="47.3" y1="55.1" x2="50.1" y2="55.1" stroke="#222" stroke-width="1.1"/>
<text transform="translate(46.2,59.4) scale(0.83,1)" text-anchor="end" class="tk">120</text>
<polygon points="405.2,256.2 405.2,219.4 430.8,150.0 433.2,145.0 436.2,135.3 437.3,134.3 438.2,135.0 445.4,117.9 450.0,104.1 451.6,102.1 455.7,92.4 458.7,85.7 459.7,84.7 460.8,88.5 462.0,87.5 463.3,83.5 464.1,86.5 465.4,89.5 466.9,86.5 467.8,87.5 468.9,92.0 470.5,91.4 472.0,90.8 472.6,92.4 472.8,114.3 474.0,114.9 475.1,117.9 476.1,118.9 476.6,124.0 477.6,125.1 478.6,127.6 480.2,129.2 483.8,130.2 484.3,136.3 486.3,138.4 488.4,141.4 491.4,144.5 494.1,151.2 500.3,152.2 502.3,156.3 509.4,158.3 512.5,160.4 515.2,162.0 515.6,186.8 517.6,189.8 520.0,191.9 521.7,196.0 524.8,199.0 527.8,202.1 535.3,203.8 540.4,207.2 546.6,211.3 549.6,227.6 553.7,232.7 557.8,238.8 560.9,240.9 571.1,242.9 581.3,245.0 590.5,247.6 596.6,250.1 601.7,251.7 610.0,252.5 638.5,252.5 638.5,256.2 638.5,254.5 560.0,254.0 540.0,253.0 520.0,251.0 500.0,249.5 480.0,248.5 460.0,249.5 452.0,252.0 445.0,256.2" fill="#00ff00" />
<clipPath id="gc2"><polygon points="405.2,256.2 405.2,219.4 430.8,150.0 433.2,145.0 436.2,135.3 437.3,134.3 438.2,135.0 445.4,117.9 450.0,104.1 451.6,102.1 455.7,92.4 458.7,85.7 459.7,84.7 460.8,88.5 462.0,87.5 463.3,83.5 464.1,86.5 465.4,89.5 466.9,86.5 467.8,87.5 468.9,92.0 470.5,91.4 472.0,90.8 472.6,92.4 472.8,114.3 474.0,114.9 475.1,117.9 476.1,118.9 476.6,124.0 477.6,125.1 478.6,127.6 480.2,129.2 483.8,130.2 484.3,136.3 486.3,138.4 488.4,141.4 491.4,144.5 494.1,151.2 500.3,152.2 502.3,156.3 509.4,158.3 512.5,160.4 515.2,162.0 515.6,186.8 517.6,189.8 520.0,191.9 521.7,196.0 524.8,199.0 527.8,202.1 535.3,203.8 540.4,207.2 546.6,211.3 549.6,227.6 553.7,232.7 557.8,238.8 560.9,240.9 571.1,242.9 581.3,245.0 590.5,247.6 596.6,250.1 601.7,251.7 610.0,252.5 638.5,252.5 638.5,256.2 638.5,254.5 560.0,254.0 540.0,253.0 520.0,251.0 500.0,249.5 480.0,248.5 460.0,249.5 452.0,252.0 445.0,256.2" fill="#000" /></clipPath>
<polygon points="430.0,256.3 430.0,255.2 430.8,255.0 431.9,254.8 432.9,254.6 433.5,254.8 434.5,254.3 435.2,255.2 436.3,254.7 437.0,254.4 437.6,254.5 438.2,254.7 438.8,254.9 439.4,255.1 440.3,255.1 441.0,254.6 441.7,255.1 442.6,255.3 443.3,254.7 443.8,255.2 444.6,255.0 445.7,252.9 446.4,252.6 447.5,252.7 448.4,253.2 449.5,252.5 450.2,251.2 450.8,253.7 451.7,251.1 452.6,252.7 453.1,252.9 454.2,253.5 455.2,250.9 455.8,251.0 456.5,253.6 457.3,251.1 458.3,253.3 458.9,252.6 459.9,253.2 460.6,252.3 461.2,253.1 462.3,253.7 463.2,253.7 463.8,252.0 464.7,252.9 465.5,252.5 466.3,252.5 467.1,252.3 468.1,251.5 468.7,252.4 469.3,252.5 470.1,252.3 470.9,253.5 471.9,252.3 472.7,252.7 473.3,251.3 474.2,251.4 475.3,252.3 476.4,253.3 477.4,253.6 478.4,253.3 479.0,251.4 479.8,251.1 480.5,252.3 481.0,253.2 482.1,251.8 482.7,251.5 483.5,251.9 484.5,252.1 485.6,253.5 486.4,252.6 487.1,250.9 487.8,251.5 488.4,251.6 489.4,253.0 490.5,252.1 491.2,253.8 491.8,252.0 492.6,251.1 493.2,251.9 493.7,252.7 494.4,253.1 495.3,253.2 496.1,253.4 496.7,253.3 497.6,251.2 498.3,253.0 499.2,252.1 500.1,252.5 501.1,253.0 501.6,252.2 502.2,253.6 502.7,252.2 503.3,253.2 504.1,251.9 504.7,252.9 505.3,251.2 506.2,253.8 507.1,252.4 507.9,253.1 508.5,253.7 509.5,251.7 510.4,253.0 511.2,251.5 511.8,251.9 512.5,251.2 513.1,253.1 514.2,251.6 515.2,252.8 516.3,251.9 517.2,250.9 518.2,251.7 518.9,251.6 519.6,253.2 520.2,251.1 520.7,253.5 521.4,253.4 521.9,251.7 522.8,251.6 523.7,252.7 524.7,251.2 525.7,251.1 526.3,253.2 526.8,251.3 527.7,251.4 528.3,253.5 529.3,253.2 530.0,254.3 530.7,252.8 531.4,252.2 532.4,253.0 533.2,253.4 533.9,252.8 534.5,252.4 535.5,254.0 536.1,252.7 536.6,253.3 537.6,254.0 538.3,252.5 539.4,253.7 540.3,253.3 541.2,254.2 542.1,252.6 542.8,253.5 543.8,254.2 544.4,253.9 545.4,253.3 546.4,253.9 547.2,252.7 548.1,253.6 548.7,252.5 549.7,254.0 550.6,253.1 551.4,252.4 552.0,253.7 553.0,254.0 553.7,253.6 554.3,253.6 555.4,252.7 556.4,254.2 557.5,252.6 558.3,253.9 558.9,253.9 559.4,253.5 560.3,253.3 561.1,254.1 561.8,252.7 562.6,253.1 563.3,253.9 564.3,252.6 565.4,254.7 566.1,255.1 566.7,255.0 567.6,254.7 568.4,254.9 569.1,254.7 569.7,254.7 570.5,254.9 571.0,254.8 572.0,254.4 572.5,254.8 573.4,254.9 574.4,254.9 575.5,255.2 576.2,254.6 577.3,255.0 578.0,255.0 578.8,255.0 579.5,255.1 580.4,254.4 581.0,254.6 581.7,255.3 582.7,254.7 583.5,255.2 584.2,254.7 585.2,254.9 586.0,255.3 586.7,254.5 587.5,255.1 588.1,255.4 588.7,255.1 589.5,255.0 590.4,255.0 591.4,255.3 592.5,254.6 593.5,254.7 594.0,254.4 594.6,255.3 595.3,254.6 595.9,254.5 596.5,254.5 597.4,254.7 598.4,254.5 599.3,254.8 600.1,254.5 600.7,255.2 601.5,255.3 602.1,254.9 603.0,254.5 604.0,254.9 604.9,254.5 605.6,254.4 606.5,254.7 607.4,254.7 608.1,254.4 608.8,254.5 609.8,254.7 610.8,255.0 611.6,254.6 612.4,255.0 613.4,255.1 614.1,254.9 614.9,254.4 615.9,255.1 616.6,254.8 617.5,255.4 618.6,254.8 619.2,255.4 620.3,254.8 621.3,254.4 622.1,254.7 623.0,254.7 623.9,254.9 624.5,255.2 625.4,254.4 626.2,254.5 627.0,255.1 627.7,255.1 628.6,254.4 629.5,255.4 630.5,254.8 631.2,255.4 632.1,254.4 632.9,255.0 633.7,255.2 634.3,255.4 634.8,254.4 635.9,255.3 636.8,255.1 637.4,255.3 638.0,256.3" fill="#6a3cc8" />
<polyline points="430.0,253.5 430.8,254.6 431.9,255.0 432.9,253.3 433.5,253.7 434.5,255.6 435.2,255.1 436.3,253.4 437.0,254.4 437.6,253.4 438.2,254.1 438.8,255.2 439.4,254.1 440.3,255.7 441.0,255.1 441.7,253.7 442.6,255.4 443.3,254.0 443.8,253.9 444.6,254.8 445.7,251.0 446.4,249.5 447.5,253.2 448.4,254.7 449.5,249.7 450.2,251.6 450.8,251.1 451.7,254.0 452.6,251.3 453.1,251.2 454.2,251.4 455.2,253.2 455.8,248.9 456.5,249.2 457.3,250.7 458.3,249.8 458.9,249.5 459.9,253.1 460.6,252.0 461.2,250.2 462.3,251.0 463.2,249.6 463.8,251.1 464.7,251.8 465.5,250.5 466.3,254.6 467.1,253.0 468.1,251.6 468.7,253.9 469.3,254.0 470.1,254.4 470.9,250.1 471.9,254.3 472.7,249.0 473.3,248.8 474.2,253.3 475.3,249.0 476.4,249.8 477.4,252.2 478.4,249.3 479.0,253.6 479.8,253.2 480.5,252.4 481.0,253.5 482.1,249.3 482.7,253.8 483.5,252.2 484.5,250.9 485.6,248.8 486.4,249.8 487.1,250.9 487.8,251.7 488.4,254.4 489.4,250.6 490.5,250.5 491.2,254.5 491.8,251.8 492.6,253.7 493.2,254.6 493.7,253.9 494.4,250.9 495.3,250.7 496.1,249.1 496.7,254.0 497.6,249.9 498.3,254.7 499.2,252.2 500.1,249.1 501.1,249.3 501.6,251.9 502.2,249.9 502.7,249.1 503.3,250.8 504.1,249.7 504.7,252.6 505.3,249.9 506.2,249.6 507.1,250.1 507.9,253.9 508.5,252.3 509.5,249.5 510.4,251.1 511.2,251.2 511.8,249.0 512.5,254.7 513.1,250.1 514.2,252.4 515.2,253.0 516.3,250.3 517.2,251.5 518.2,249.5 518.9,251.0 519.6,250.7 520.2,253.6 520.7,249.1 521.4,254.5 521.9,250.6 522.8,254.2 523.7,249.7 524.7,254.2 525.7,249.1 526.3,253.9 526.8,249.7 527.7,250.6 528.3,254.0 529.3,252.4 530.0,253.8 530.7,253.2 531.4,252.7 532.4,255.0 533.2,251.6 533.9,252.5 534.5,254.6 535.5,255.2 536.1,250.9 536.6,252.7 537.6,252.7 538.3,253.7 539.4,254.0 540.3,254.5 541.2,251.6 542.1,252.2 542.8,253.1 543.8,251.2 544.4,253.7 545.4,253.2 546.4,252.8 547.2,251.7 548.1,253.4 548.7,252.0 549.7,252.9 550.6,254.4 551.4,253.9 552.0,251.9 553.0,254.3 553.7,252.6 554.3,254.1 555.4,254.6 556.4,253.2 557.5,251.8 558.3,252.1 558.9,253.2 559.4,251.5 560.3,252.1 561.1,252.3 561.8,251.1 562.6,251.7 563.3,251.8 564.3,251.9 565.4,254.4 566.1,254.4 566.7,254.2 567.6,255.2 568.4,254.4 569.1,253.9 569.7,254.2 570.5,253.8 571.0,255.4 572.0,254.6 572.5,254.6 573.4,254.4 574.4,254.8 575.5,254.3 576.2,255.5 577.3,255.6 578.0,255.8 578.8,254.3 579.5,255.2 580.4,254.6 581.0,254.9 581.7,254.2 582.7,254.7 583.5,253.9 584.2,254.1 585.2,255.1 586.0,254.1 586.7,255.1 587.5,254.8 588.1,254.3 588.7,255.0 589.5,254.4 590.4,253.9 591.4,254.1 592.5,255.4 593.5,255.8 594.0,254.4 594.6,255.4 595.3,255.0 595.9,254.1 596.5,254.5 597.4,254.0 598.4,255.3 599.3,254.2 600.1,254.6 600.7,255.4 601.5,254.7 602.1,254.7 603.0,255.8 604.0,254.5 604.9,254.9 605.6,255.6 606.5,255.7 607.4,253.9 608.1,254.6 608.8,255.7 609.8,255.0 610.8,254.7 611.6,255.2 612.4,254.6 613.4,254.1 614.1,255.1 614.9,254.4 615.9,255.0 616.6,254.4 617.5,254.3 618.6,255.7 619.2,255.3 620.3,254.4 621.3,254.4 622.1,254.3 623.0,255.2 623.9,254.2 624.5,255.7 625.4,254.4 626.2,254.1 627.0,255.0 627.7,254.8 628.6,255.6 629.5,255.5 630.5,253.9 631.2,254.9 632.1,253.8 632.9,255.5 633.7,255.4 634.3,254.3 634.8,255.5 635.9,255.7 636.8,254.2 637.4,254.2" fill="none" stroke="#6a3cc8" stroke-width="0.8" />
<polyline points="470.5,255.0 472.3,233.7 474.0,255.0" fill="none" stroke="#6a3cc8" stroke-width="1.3" />
<polyline points="510.5,255.0 512.5,232.0 514.6,232.0 516.5,255.0" fill="none" stroke="#6a3cc8" stroke-width="1.3" />
<polygon points="435.0,256.3 436.6,250.0 437.2,252.9 438.8,256.3" fill="#6a3cc8" />
<polygon points="438.5,256.3 440.1,251.0 440.7,252.7 442.3,256.3" fill="#6a3cc8" />
<polygon points="449.9,256.3 450.9,249.6 451.5,250.4 452.5,256.3" fill="#6a3cc8" />
<polygon points="458.4,256.3 459.1,250.6 459.7,253.4 460.4,256.3" fill="#6a3cc8" />
<polygon points="461.5,256.3 463.2,250.9 463.8,253.4 465.5,256.3" fill="#6a3cc8" />
<polygon points="466.1,256.3 467.7,252.4 468.3,254.1 469.9,256.3" fill="#6a3cc8" />
<polygon points="470.7,256.3 472.0,249.9 472.6,253.0 473.9,256.3" fill="#6a3cc8" />
<polygon points="475.0,256.3 476.4,252.1 477.0,253.5 478.4,256.3" fill="#6a3cc8" />
<polygon points="477.6,256.3 478.5,250.8 479.1,251.8 480.0,256.3" fill="#6a3cc8" />
<polygon points="482.7,256.3 484.2,252.2 484.8,253.2 486.3,256.3" fill="#6a3cc8" />
<polygon points="484.5,256.3 485.7,251.9 486.3,252.7 487.5,256.3" fill="#6a3cc8" />
<polygon points="491.2,256.3 492.8,249.5 493.4,251.4 495.0,256.3" fill="#6a3cc8" />
<polygon points="499.8,256.3 500.6,252.5 501.2,252.9 502.0,256.3" fill="#6a3cc8" />
<polygon points="507.4,256.3 509.1,250.6 509.7,252.7 511.4,256.3" fill="#6a3cc8" />
<polygon points="510.3,256.3 512.2,251.1 512.8,251.9 514.7,256.3" fill="#6a3cc8" />
<polygon points="513.2,256.3 514.3,251.1 514.9,252.8 516.0,256.3" fill="#6a3cc8" />
<polygon points="516.1,256.3 517.3,249.8 517.9,251.3 519.1,256.3" fill="#6a3cc8" />
<polygon points="520.0,256.3 521.8,251.1 522.4,252.0 524.2,256.3" fill="#6a3cc8" />
<polygon points="523.5,256.3 524.2,252.5 524.8,254.0 525.5,256.3" fill="#6a3cc8" />
<polygon points="537.7,256.3 539.1,251.9 539.7,252.7 541.1,256.3" fill="#6a3cc8" />
<polygon points="547.5,256.3 548.3,249.8 548.9,250.9 549.7,256.3" fill="#6a3cc8" />
<polygon points="555.8,256.3 557.5,250.1 558.1,251.8 559.8,256.3" fill="#6a3cc8" />
<polyline points="406.2,252.1 413.0,253.0 420.5,250.1 424.0,253.0 432.0,252.5" fill="none" stroke="#5a3cb8" stroke-width="1.0" /><path d="M404.4,252.1H408.0M406.2,250.7V253.5" stroke="#5a3cb8" stroke-width="0.9" fill="none"/><path d="M404.9,250.8L407.5,253.4M404.9,253.4L407.5,250.8" stroke="#5a3cb8" stroke-width="0.5" fill="none" opacity="0.6"/><path d="M411.2,253.0H414.8M413.0,251.6V254.4" stroke="#5a3cb8" stroke-width="0.9" fill="none"/><path d="M411.7,251.7L414.3,254.3M411.7,254.3L414.3,251.7" stroke="#5a3cb8" stroke-width="0.5" fill="none" opacity="0.6"/><path d="M418.7,250.1H422.3M420.5,248.7V251.5" stroke="#5a3cb8" stroke-width="0.9" fill="none"/><path d="M419.2,248.8L421.8,251.4M419.2,251.4L421.8,248.8" stroke="#5a3cb8" stroke-width="0.5" fill="none" opacity="0.6"/><path d="M422.2,253.0H425.8M424.0,251.6V254.4" stroke="#5a3cb8" stroke-width="0.9" fill="none"/><path d="M422.7,251.7L425.3,254.3M422.7,254.3L425.3,251.7" stroke="#5a3cb8" stroke-width="0.5" fill="none" opacity="0.6"/><path d="M430.2,252.5H433.8M432.0,251.1V253.9" stroke="#5a3cb8" stroke-width="0.9" fill="none"/><path d="M430.7,251.2L433.3,253.8M430.7,253.8L433.3,251.2" stroke="#5a3cb8" stroke-width="0.5" fill="none" opacity="0.6"/><polyline points="565.0,253.5 580.0,253.2 590.0,253.5 597.7,248.4 601.0,253.6 615.0,253.6 625.0,253.8 634.4,251.1 638.0,253.5" fill="none" stroke="#5a3cb8" stroke-width="1.0" /><path d="M563.2,253.5H566.8M565.0,252.1V254.9" stroke="#5a3cb8" stroke-width="0.9" fill="none"/><path d="M563.7,252.2L566.3,254.8M563.7,254.8L566.3,252.2" stroke="#5a3cb8" stroke-width="0.5" fill="none" opacity="0.6"/><path d="M578.2,253.2H581.8M580.0,251.8V254.6" stroke="#5a3cb8" stroke-width="0.9" fill="none"/><path d="M578.7,251.9L581.3,254.5M578.7,254.5L581.3,251.9" stroke="#5a3cb8" stroke-width="0.5" fill="none" opacity="0.6"/><path d="M588.2,253.5H591.8M590.0,252.1V254.9" stroke="#5a3cb8" stroke-width="0.9" fill="none"/><path d="M588.7,252.2L591.3,254.8M588.7,254.8L591.3,252.2" stroke="#5a3cb8" stroke-width="0.5" fill="none" opacity="0.6"/><path d="M595.9,248.4H599.5M597.7,247.0V249.8" stroke="#5a3cb8" stroke-width="0.9" fill="none"/><path d="M596.4,247.1L599.0,249.7M596.4,249.7L599.0,247.1" stroke="#5a3cb8" stroke-width="0.5" fill="none" opacity="0.6"/><path d="M599.2,253.6H602.8M601.0,252.2V255.0" stroke="#5a3cb8" stroke-width="0.9" fill="none"/><path d="M599.7,252.3L602.3,254.9M599.7,254.9L602.3,252.3" stroke="#5a3cb8" stroke-width="0.5" fill="none" opacity="0.6"/><path d="M613.2,253.6H616.8M615.0,252.2V255.0" stroke="#5a3cb8" stroke-width="0.9" fill="none"/><path d="M613.7,252.3L616.3,254.9M613.7,254.9L616.3,252.3" stroke="#5a3cb8" stroke-width="0.5" fill="none" opacity="0.6"/><path d="M623.2,253.8H626.8M625.0,252.4V255.2" stroke="#5a3cb8" stroke-width="0.9" fill="none"/><path d="M623.7,252.5L626.3,255.1M623.7,255.1L626.3,252.5" stroke="#5a3cb8" stroke-width="0.5" fill="none" opacity="0.6"/><path d="M632.6,251.1H636.2M634.4,249.7V252.5" stroke="#5a3cb8" stroke-width="0.9" fill="none"/><path d="M633.1,249.8L635.7,252.4M633.1,252.4L635.7,249.8" stroke="#5a3cb8" stroke-width="0.5" fill="none" opacity="0.6"/><path d="M636.2,253.5H639.8M638.0,252.1V254.9" stroke="#5a3cb8" stroke-width="0.9" fill="none"/><path d="M636.7,252.2L639.3,254.8M636.7,254.8L639.3,252.2" stroke="#5a3cb8" stroke-width="0.5" fill="none" opacity="0.6"/><line x1="436.9" y1="255.8" x2="436.9" y2="192.9" stroke="#5a3cb8" stroke-width="1.1"/><path d="M435.1,192.9H438.7M436.9,191.5V194.3" stroke="#5a3cb8" stroke-width="0.9" fill="none"/><path d="M435.6,191.6L438.2,194.2M435.6,194.2L438.2,191.6" stroke="#5a3cb8" stroke-width="0.5" fill="none" opacity="0.6"/><line x1="440.4" y1="255.8" x2="440.4" y2="239.5" stroke="#5a3cb8" stroke-width="1.1"/><path d="M438.6,239.5H442.2M440.4,238.1V240.9" stroke="#5a3cb8" stroke-width="0.9" fill="none"/><path d="M439.1,238.2L441.7,240.8M439.1,240.8L441.7,238.2" stroke="#5a3cb8" stroke-width="0.5" fill="none" opacity="0.6"/><line x1="451.2" y1="255.8" x2="451.2" y2="240.9" stroke="#5a3cb8" stroke-width="1.1"/><path d="M449.4,240.9H453.0M451.2,239.5V242.3" stroke="#5a3cb8" stroke-width="0.9" fill="none"/><path d="M449.9,239.6L452.5,242.2M449.9,242.2L452.5,239.6" stroke="#5a3cb8" stroke-width="0.5" fill="none" opacity="0.6"/><line x1="459.4" y1="255.8" x2="459.4" y2="227.2" stroke="#5a3cb8" stroke-width="1.1"/><path d="M457.6,227.2H461.2M459.4,225.8V228.6" stroke="#5a3cb8" stroke-width="0.9" fill="none"/><path d="M458.1,225.9L460.7,228.5M458.1,228.5L460.7,225.9" stroke="#5a3cb8" stroke-width="0.5" fill="none" opacity="0.6"/><line x1="463.5" y1="255.8" x2="463.5" y2="211.3" stroke="#5a3cb8" stroke-width="1.1"/><path d="M461.7,211.3H465.3M463.5,209.9V212.7" stroke="#5a3cb8" stroke-width="0.9" fill="none"/><path d="M462.2,210.0L464.8,212.6M462.2,212.6L464.8,210.0" stroke="#5a3cb8" stroke-width="0.5" fill="none" opacity="0.6"/><line x1="468.0" y1="255.8" x2="468.0" y2="215.0" stroke="#5a3cb8" stroke-width="1.1"/><path d="M466.2,215.0H469.8M468.0,213.6V216.4" stroke="#5a3cb8" stroke-width="0.9" fill="none"/><path d="M466.7,213.7L469.3,216.3M466.7,216.3L469.3,213.7" stroke="#5a3cb8" stroke-width="0.5" fill="none" opacity="0.6"/><line x1="472.3" y1="255.8" x2="472.3" y2="159.2" stroke="#5a3cb8" stroke-width="1.1"/><path d="M470.5,159.2H474.1M472.3,157.8V160.6" stroke="#5a3cb8" stroke-width="0.9" fill="none"/><path d="M471.0,157.9L473.6,160.5M471.0,160.5L473.6,157.9" stroke="#5a3cb8" stroke-width="0.5" fill="none" opacity="0.6"/><line x1="476.7" y1="255.8" x2="476.7" y2="212.3" stroke="#5a3cb8" stroke-width="1.1"/><path d="M474.9,212.3H478.5M476.7,210.9V213.7" stroke="#5a3cb8" stroke-width="0.9" fill="none"/><path d="M475.4,211.0L478.0,213.6M475.4,213.6L478.0,211.0" stroke="#5a3cb8" stroke-width="0.5" fill="none" opacity="0.6"/><line x1="478.8" y1="255.8" x2="478.8" y2="243.0" stroke="#5a3cb8" stroke-width="1.1"/><path d="M477.0,243.0H480.6M478.8,241.6V244.4" stroke="#5a3cb8" stroke-width="0.9" fill="none"/><path d="M477.5,241.7L480.1,244.3M477.5,244.3L480.1,241.7" stroke="#5a3cb8" stroke-width="0.5" fill="none" opacity="0.6"/><line x1="484.5" y1="255.8" x2="484.5" y2="218.4" stroke="#5a3cb8" stroke-width="1.1"/><path d="M482.7,218.4H486.3M484.5,217.0V219.8" stroke="#5a3cb8" stroke-width="0.9" fill="none"/><path d="M483.2,217.1L485.8,219.7M483.2,219.7L485.8,217.1" stroke="#5a3cb8" stroke-width="0.5" fill="none" opacity="0.6"/><line x1="486.0" y1="255.8" x2="486.0" y2="237.8" stroke="#5a3cb8" stroke-width="1.1"/><path d="M484.2,237.8H487.8M486.0,236.4V239.2" stroke="#5a3cb8" stroke-width="0.9" fill="none"/><path d="M484.7,236.5L487.3,239.1M484.7,239.1L487.3,236.5" stroke="#5a3cb8" stroke-width="0.5" fill="none" opacity="0.6"/><line x1="493.1" y1="255.8" x2="493.1" y2="225.6" stroke="#5a3cb8" stroke-width="1.1"/><path d="M491.3,225.6H494.9M493.1,224.2V227.0" stroke="#5a3cb8" stroke-width="0.9" fill="none"/><path d="M491.8,224.3L494.4,226.9M491.8,226.9L494.4,224.3" stroke="#5a3cb8" stroke-width="0.5" fill="none" opacity="0.6"/><line x1="500.9" y1="255.8" x2="500.9" y2="236.8" stroke="#5a3cb8" stroke-width="1.1"/><path d="M499.1,236.8H502.7M500.9,235.4V238.2" stroke="#5a3cb8" stroke-width="0.9" fill="none"/><path d="M499.6,235.5L502.2,238.1M499.6,238.1L502.2,235.5" stroke="#5a3cb8" stroke-width="0.5" fill="none" opacity="0.6"/><line x1="509.4" y1="255.8" x2="509.4" y2="245.0" stroke="#5a3cb8" stroke-width="1.1"/><path d="M507.6,245.0H511.2M509.4,243.6V246.4" stroke="#5a3cb8" stroke-width="0.9" fill="none"/><path d="M508.1,243.7L510.7,246.3M508.1,246.3L510.7,243.7" stroke="#5a3cb8" stroke-width="0.5" fill="none" opacity="0.6"/><line x1="512.5" y1="255.8" x2="512.5" y2="210.3" stroke="#5a3cb8" stroke-width="1.1"/><path d="M510.7,210.3H514.3M512.5,208.9V211.7" stroke="#5a3cb8" stroke-width="0.9" fill="none"/><path d="M511.2,209.0L513.8,211.6M511.2,211.6L513.8,209.0" stroke="#5a3cb8" stroke-width="0.5" fill="none" opacity="0.6"/><line x1="514.6" y1="255.8" x2="514.6" y2="211.3" stroke="#5a3cb8" stroke-width="1.1"/><path d="M512.8,211.3H516.4M514.6,209.9V212.7" stroke="#5a3cb8" stroke-width="0.9" fill="none"/><path d="M513.3,210.0L515.9,212.6M513.3,212.6L515.9,210.0" stroke="#5a3cb8" stroke-width="0.5" fill="none" opacity="0.6"/><line x1="517.6" y1="255.8" x2="517.6" y2="236.8" stroke="#5a3cb8" stroke-width="1.1"/><path d="M515.8,236.8H519.4M517.6,235.4V238.2" stroke="#5a3cb8" stroke-width="0.9" fill="none"/><path d="M516.3,235.5L518.9,238.1M516.3,238.1L518.9,235.5" stroke="#5a3cb8" stroke-width="0.5" fill="none" opacity="0.6"/><line x1="522.1" y1="255.8" x2="522.1" y2="232.7" stroke="#5a3cb8" stroke-width="1.1"/><path d="M520.3,232.7H523.9M522.1,231.3V234.1" stroke="#5a3cb8" stroke-width="0.9" fill="none"/><path d="M520.8,231.4L523.4,234.0M520.8,234.0L523.4,231.4" stroke="#5a3cb8" stroke-width="0.5" fill="none" opacity="0.6"/><line x1="524.5" y1="255.8" x2="524.5" y2="247.6" stroke="#5a3cb8" stroke-width="1.1"/><path d="M522.7,247.6H526.3M524.5,246.2V249.0" stroke="#5a3cb8" stroke-width="0.9" fill="none"/><path d="M523.2,246.3L525.8,248.9M523.2,248.9L525.8,246.3" stroke="#5a3cb8" stroke-width="0.5" fill="none" opacity="0.6"/><line x1="539.4" y1="255.8" x2="539.4" y2="245.0" stroke="#5a3cb8" stroke-width="1.1"/><path d="M537.6,245.0H541.2M539.4,243.6V246.4" stroke="#5a3cb8" stroke-width="0.9" fill="none"/><path d="M538.1,243.7L540.7,246.3M538.1,246.3L540.7,243.7" stroke="#5a3cb8" stroke-width="0.5" fill="none" opacity="0.6"/><line x1="548.6" y1="255.8" x2="548.6" y2="212.3" stroke="#5a3cb8" stroke-width="1.1"/><path d="M546.8,212.3H550.4M548.6,210.9V213.7" stroke="#5a3cb8" stroke-width="0.9" fill="none"/><path d="M547.3,211.0L549.9,213.6M547.3,213.6L549.9,211.0" stroke="#5a3cb8" stroke-width="0.5" fill="none" opacity="0.6"/><line x1="557.8" y1="255.8" x2="557.8" y2="237.8" stroke="#5a3cb8" stroke-width="1.1"/><path d="M556.0,237.8H559.6M557.8,236.4V239.2" stroke="#5a3cb8" stroke-width="0.9" fill="none"/><path d="M556.5,236.5L559.1,239.1M556.5,239.1L559.1,236.5" stroke="#5a3cb8" stroke-width="0.5" fill="none" opacity="0.6"/>
<g clip-path="url(#gc2)"><polyline points="406.2,252.1 413.0,253.0 420.5,250.1 424.0,253.0 432.0,252.5" fill="none" stroke="#464a96" stroke-width="1.0" /><path d="M404.4,252.1H408.0M406.2,250.7V253.5" stroke="#464a96" stroke-width="0.9" fill="none"/><path d="M404.9,250.8L407.5,253.4M404.9,253.4L407.5,250.8" stroke="#464a96" stroke-width="0.5" fill="none" opacity="0.6"/><path d="M411.2,253.0H414.8M413.0,251.6V254.4" stroke="#464a96" stroke-width="0.9" fill="none"/><path d="M411.7,251.7L414.3,254.3M411.7,254.3L414.3,251.7" stroke="#464a96" stroke-width="0.5" fill="none" opacity="0.6"/><path d="M418.7,250.1H422.3M420.5,248.7V251.5" stroke="#464a96" stroke-width="0.9" fill="none"/><path d="M419.2,248.8L421.8,251.4M419.2,251.4L421.8,248.8" stroke="#464a96" stroke-width="0.5" fill="none" opacity="0.6"/><path d="M422.2,253.0H425.8M424.0,251.6V254.4" stroke="#464a96" stroke-width="0.9" fill="none"/><path d="M422.7,251.7L425.3,254.3M422.7,254.3L425.3,251.7" stroke="#464a96" stroke-width="0.5" fill="none" opacity="0.6"/><path d="M430.2,252.5H433.8M432.0,251.1V253.9" stroke="#464a96" stroke-width="0.9" fill="none"/><path d="M430.7,251.2L433.3,253.8M430.7,253.8L433.3,251.2" stroke="#464a96" stroke-width="0.5" fill="none" opacity="0.6"/><polyline points="565.0,253.5 580.0,253.2 590.0,253.5 597.7,248.4 601.0,253.6 615.0,253.6 625.0,253.8 634.4,251.1 638.0,253.5" fill="none" stroke="#464a96" stroke-width="1.0" /><path d="M563.2,253.5H566.8M565.0,252.1V254.9" stroke="#464a96" stroke-width="0.9" fill="none"/><path d="M563.7,252.2L566.3,254.8M563.7,254.8L566.3,252.2" stroke="#464a96" stroke-width="0.5" fill="none" opacity="0.6"/><path d="M578.2,253.2H581.8M580.0,251.8V254.6" stroke="#464a96" stroke-width="0.9" fill="none"/><path d="M578.7,251.9L581.3,254.5M578.7,254.5L581.3,251.9" stroke="#464a96" stroke-width="0.5" fill="none" opacity="0.6"/><path d="M588.2,253.5H591.8M590.0,252.1V254.9" stroke="#464a96" stroke-width="0.9" fill="none"/><path d="M588.7,252.2L591.3,254.8M588.7,254.8L591.3,252.2" stroke="#464a96" stroke-width="0.5" fill="none" opacity="0.6"/><path d="M595.9,248.4H599.5M597.7,247.0V249.8" stroke="#464a96" stroke-width="0.9" fill="none"/><path d="M596.4,247.1L599.0,249.7M596.4,249.7L599.0,247.1" stroke="#464a96" stroke-width="0.5" fill="none" opacity="0.6"/><path d="M599.2,253.6H602.8M601.0,252.2V255.0" stroke="#464a96" stroke-width="0.9" fill="none"/><path d="M599.7,252.3L602.3,254.9M599.7,254.9L602.3,252.3" stroke="#464a96" stroke-width="0.5" fill="none" opacity="0.6"/><path d="M613.2,253.6H616.8M615.0,252.2V255.0" stroke="#464a96" stroke-width="0.9" fill="none"/><path d="M613.7,252.3L616.3,254.9M613.7,254.9L616.3,252.3" stroke="#464a96" stroke-width="0.5" fill="none" opacity="0.6"/><path d="M623.2,253.8H626.8M625.0,252.4V255.2" stroke="#464a96" stroke-width="0.9" fill="none"/><path d="M623.7,252.5L626.3,255.1M623.7,255.1L626.3,252.5" stroke="#464a96" stroke-width="0.5" fill="none" opacity="0.6"/><path d="M632.6,251.1H636.2M634.4,249.7V252.5" stroke="#464a96" stroke-width="0.9" fill="none"/><path d="M633.1,249.8L635.7,252.4M633.1,252.4L635.7,249.8" stroke="#464a96" stroke-width="0.5" fill="none" opacity="0.6"/><path d="M636.2,253.5H639.8M638.0,252.1V254.9" stroke="#464a96" stroke-width="0.9" fill="none"/><path d="M636.7,252.2L639.3,254.8M636.7,254.8L639.3,252.2" stroke="#464a96" stroke-width="0.5" fill="none" opacity="0.6"/><line x1="436.9" y1="255.8" x2="436.9" y2="192.9" stroke="#464a96" stroke-width="1.1"/><path d="M435.1,192.9H438.7M436.9,191.5V194.3" stroke="#464a96" stroke-width="0.9" fill="none"/><path d="M435.6,191.6L438.2,194.2M435.6,194.2L438.2,191.6" stroke="#464a96" stroke-width="0.5" fill="none" opacity="0.6"/><line x1="440.4" y1="255.8" x2="440.4" y2="239.5" stroke="#464a96" stroke-width="1.1"/><path d="M438.6,239.5H442.2M440.4,238.1V240.9" stroke="#464a96" stroke-width="0.9" fill="none"/><path d="M439.1,238.2L441.7,240.8M439.1,240.8L441.7,238.2" stroke="#464a96" stroke-width="0.5" fill="none" opacity="0.6"/><line x1="451.2" y1="255.8" x2="451.2" y2="240.9" stroke="#464a96" stroke-width="1.1"/><path d="M449.4,240.9H453.0M451.2,239.5V242.3" stroke="#464a96" stroke-width="0.9" fill="none"/><path d="M449.9,239.6L452.5,242.2M449.9,242.2L452.5,239.6" stroke="#464a96" stroke-width="0.5" fill="none" opacity="0.6"/><line x1="459.4" y1="255.8" x2="459.4" y2="227.2" stroke="#464a96" stroke-width="1.1"/><path d="M457.6,227.2H461.2M459.4,225.8V228.6" stroke="#464a96" stroke-width="0.9" fill="none"/><path d="M458.1,225.9L460.7,228.5M458.1,228.5L460.7,225.9" stroke="#464a96" stroke-width="0.5" fill="none" opacity="0.6"/><line x1="463.5" y1="255.8" x2="463.5" y2="211.3" stroke="#464a96" stroke-width="1.1"/><path d="M461.7,211.3H465.3M463.5,209.9V212.7" stroke="#464a96" stroke-width="0.9" fill="none"/><path d="M462.2,210.0L464.8,212.6M462.2,212.6L464.8,210.0" stroke="#464a96" stroke-width="0.5" fill="none" opacity="0.6"/><line x1="468.0" y1="255.8" x2="468.0" y2="215.0" stroke="#464a96" stroke-width="1.1"/><path d="M466.2,215.0H469.8M468.0,213.6V216.4" stroke="#464a96" stroke-width="0.9" fill="none"/><path d="M466.7,213.7L469.3,216.3M466.7,216.3L469.3,213.7" stroke="#464a96" stroke-width="0.5" fill="none" opacity="0.6"/><line x1="472.3" y1="255.8" x2="472.3" y2="159.2" stroke="#464a96" stroke-width="1.1"/><path d="M470.5,159.2H474.1M472.3,157.8V160.6" stroke="#464a96" stroke-width="0.9" fill="none"/><path d="M471.0,157.9L473.6,160.5M471.0,160.5L473.6,157.9" stroke="#464a96" stroke-width="0.5" fill="none" opacity="0.6"/><line x1="476.7" y1="255.8" x2="476.7" y2="212.3" stroke="#464a96" stroke-width="1.1"/><path d="M474.9,212.3H478.5M476.7,210.9V213.7" stroke="#464a96" stroke-width="0.9" fill="none"/><path d="M475.4,211.0L478.0,213.6M475.4,213.6L478.0,211.0" stroke="#464a96" stroke-width="0.5" fill="none" opacity="0.6"/><line x1="478.8" y1="255.8" x2="478.8" y2="243.0" stroke="#464a96" stroke-width="1.1"/><path d="M477.0,243.0H480.6M478.8,241.6V244.4" stroke="#464a96" stroke-width="0.9" fill="none"/><path d="M477.5,241.7L480.1,244.3M477.5,244.3L480.1,241.7" stroke="#464a96" stroke-width="0.5" fill="none" opacity="0.6"/><line x1="484.5" y1="255.8" x2="484.5" y2="218.4" stroke="#464a96" stroke-width="1.1"/><path d="M482.7,218.4H486.3M484.5,217.0V219.8" stroke="#464a96" stroke-width="0.9" fill="none"/><path d="M483.2,217.1L485.8,219.7M483.2,219.7L485.8,217.1" stroke="#464a96" stroke-width="0.5" fill="none" opacity="0.6"/><line x1="486.0" y1="255.8" x2="486.0" y2="237.8" stroke="#464a96" stroke-width="1.1"/><path d="M484.2,237.8H487.8M486.0,236.4V239.2" stroke="#464a96" stroke-width="0.9" fill="none"/><path d="M484.7,236.5L487.3,239.1M484.7,239.1L487.3,236.5" stroke="#464a96" stroke-width="0.5" fill="none" opacity="0.6"/><line x1="493.1" y1="255.8" x2="493.1" y2="225.6" stroke="#464a96" stroke-width="1.1"/><path d="M491.3,225.6H494.9M493.1,224.2V227.0" stroke="#464a96" stroke-width="0.9" fill="none"/><path d="M491.8,224.3L494.4,226.9M491.8,226.9L494.4,224.3" stroke="#464a96" stroke-width="0.5" fill="none" opacity="0.6"/><line x1="500.9" y1="255.8" x2="500.9" y2="236.8" stroke="#464a96" stroke-width="1.1"/><path d="M499.1,236.8H502.7M500.9,235.4V238.2" stroke="#464a96" stroke-width="0.9" fill="none"/><path d="M499.6,235.5L502.2,238.1M499.6,238.1L502.2,235.5" stroke="#464a96" stroke-width="0.5" fill="none" opacity="0.6"/><line x1="509.4" y1="255.8" x2="509.4" y2="245.0" stroke="#464a96" stroke-width="1.1"/><path d="M507.6,245.0H511.2M509.4,243.6V246.4" stroke="#464a96" stroke-width="0.9" fill="none"/><path d="M508.1,243.7L510.7,246.3M508.1,246.3L510.7,243.7" stroke="#464a96" stroke-width="0.5" fill="none" opacity="0.6"/><line x1="512.5" y1="255.8" x2="512.5" y2="210.3" stroke="#464a96" stroke-width="1.1"/><path d="M510.7,210.3H514.3M512.5,208.9V211.7" stroke="#464a96" stroke-width="0.9" fill="none"/><path d="M511.2,209.0L513.8,211.6M511.2,211.6L513.8,209.0" stroke="#464a96" stroke-width="0.5" fill="none" opacity="0.6"/><line x1="514.6" y1="255.8" x2="514.6" y2="211.3" stroke="#464a96" stroke-width="1.1"/><path d="M512.8,211.3H516.4M514.6,209.9V212.7" stroke="#464a96" stroke-width="0.9" fill="none"/><path d="M513.3,210.0L515.9,212.6M513.3,212.6L515.9,210.0" stroke="#464a96" stroke-width="0.5" fill="none" opacity="0.6"/><line x1="517.6" y1="255.8" x2="517.6" y2="236.8" stroke="#464a96" stroke-width="1.1"/><path d="M515.8,236.8H519.4M517.6,235.4V238.2" stroke="#464a96" stroke-width="0.9" fill="none"/><path d="M516.3,235.5L518.9,238.1M516.3,238.1L518.9,235.5" stroke="#464a96" stroke-width="0.5" fill="none" opacity="0.6"/><line x1="522.1" y1="255.8" x2="522.1" y2="232.7" stroke="#464a96" stroke-width="1.1"/><path d="M520.3,232.7H523.9M522.1,231.3V234.1" stroke="#464a96" stroke-width="0.9" fill="none"/><path d="M520.8,231.4L523.4,234.0M520.8,234.0L523.4,231.4" stroke="#464a96" stroke-width="0.5" fill="none" opacity="0.6"/><line x1="524.5" y1="255.8" x2="524.5" y2="247.6" stroke="#464a96" stroke-width="1.1"/><path d="M522.7,247.6H526.3M524.5,246.2V249.0" stroke="#464a96" stroke-width="0.9" fill="none"/><path d="M523.2,246.3L525.8,248.9M523.2,248.9L525.8,246.3" stroke="#464a96" stroke-width="0.5" fill="none" opacity="0.6"/><line x1="539.4" y1="255.8" x2="539.4" y2="245.0" stroke="#464a96" stroke-width="1.1"/><path d="M537.6,245.0H541.2M539.4,243.6V246.4" stroke="#464a96" stroke-width="0.9" fill="none"/><path d="M538.1,243.7L540.7,246.3M538.1,246.3L540.7,243.7" stroke="#464a96" stroke-width="0.5" fill="none" opacity="0.6"/><line x1="548.6" y1="255.8" x2="548.6" y2="212.3" stroke="#464a96" stroke-width="1.1"/><path d="M546.8,212.3H550.4M548.6,210.9V213.7" stroke="#464a96" stroke-width="0.9" fill="none"/><path d="M547.3,211.0L549.9,213.6M547.3,213.6L549.9,211.0" stroke="#464a96" stroke-width="0.5" fill="none" opacity="0.6"/><line x1="557.8" y1="255.8" x2="557.8" y2="237.8" stroke="#464a96" stroke-width="1.1"/><path d="M556.0,237.8H559.6M557.8,236.4V239.2" stroke="#464a96" stroke-width="0.9" fill="none"/><path d="M556.5,236.5L559.1,239.1M556.5,239.1L559.1,236.5" stroke="#464a96" stroke-width="0.5" fill="none" opacity="0.6"/></g>
<line x1="395.7" y1="51.5" x2="659.5" y2="51.5" stroke="#555" stroke-width="1.2"/>
<line x1="659.5" y1="50.9" x2="659.5" y2="258.2" stroke="#2a2a2a" stroke-width="1.3"/>
<line x1="395.7" y1="50.9" x2="395.7" y2="262.6" stroke="#777" stroke-width="1.3"/>
<line x1="395.7" y1="258.2" x2="660.1" y2="258.2" stroke="#151515" stroke-width="1.4"/>
<line x1="399.5" y1="258.2" x2="399.5" y2="260.6" stroke="#151515" stroke-width="1.1"/>
<line x1="403.2" y1="258.2" x2="403.2" y2="260.6" stroke="#151515" stroke-width="1.1"/>
<line x1="407.0" y1="258.2" x2="407.0" y2="260.6" stroke="#151515" stroke-width="1.1"/>
<line x1="410.8" y1="258.2" x2="410.8" y2="260.6" stroke="#151515" stroke-width="1.1"/>
<line x1="414.5" y1="258.2" x2="414.5" y2="260.6" stroke="#151515" stroke-width="1.1"/>
<line x1="418.3" y1="258.2" x2="418.3" y2="260.6" stroke="#151515" stroke-width="1.1"/>
<line x1="422.1" y1="258.2" x2="422.1" y2="260.6" stroke="#151515" stroke-width="1.1"/>
<line x1="425.9" y1="258.2" x2="425.9" y2="260.6" stroke="#151515" stroke-width="1.1"/>
<line x1="429.6" y1="258.2" x2="429.6" y2="260.6" stroke="#151515" stroke-width="1.1"/>
<line x1="433.4" y1="258.2" x2="433.4" y2="262.6" stroke="#151515" stroke-width="1.1"/>
<line x1="437.2" y1="258.2" x2="437.2" y2="260.6" stroke="#151515" stroke-width="1.1"/>
<line x1="440.9" y1="258.2" x2="440.9" y2="260.6" stroke="#151515" stroke-width="1.1"/>
<line x1="444.7" y1="258.2" x2="444.7" y2="260.6" stroke="#151515" stroke-width="1.1"/>
<line x1="448.5" y1="258.2" x2="448.5" y2="260.6" stroke="#151515" stroke-width="1.1"/>
<line x1="452.2" y1="258.2" x2="452.2" y2="260.6" stroke="#151515" stroke-width="1.1"/>
<line x1="456.0" y1="258.2" x2="456.0" y2="260.6" stroke="#151515" stroke-width="1.1"/>
<line x1="459.8" y1="258.2" x2="459.8" y2="260.6" stroke="#151515" stroke-width="1.1"/>
<line x1="463.5" y1="258.2" x2="463.5" y2="260.6" stroke="#151515" stroke-width="1.1"/>
<line x1="467.3" y1="258.2" x2="467.3" y2="260.6" stroke="#151515" stroke-width="1.1"/>
<line x1="471.1" y1="258.2" x2="471.1" y2="262.6" stroke="#151515" stroke-width="1.1"/>
<line x1="474.8" y1="258.2" x2="474.8" y2="260.6" stroke="#151515" stroke-width="1.1"/>
<line x1="478.6" y1="258.2" x2="478.6" y2="260.6" stroke="#151515" stroke-width="1.1"/>
<line x1="482.4" y1="258.2" x2="482.4" y2="260.6" stroke="#151515" stroke-width="1.1"/>
<line x1="486.2" y1="258.2" x2="486.2" y2="260.6" stroke="#151515" stroke-width="1.1"/>
<line x1="489.9" y1="258.2" x2="489.9" y2="260.6" stroke="#151515" stroke-width="1.1"/>
<line x1="493.7" y1="258.2" x2="493.7" y2="260.6" stroke="#151515" stroke-width="1.1"/>
<line x1="497.5" y1="258.2" x2="497.5" y2="260.6" stroke="#151515" stroke-width="1.1"/>
<line x1="501.2" y1="258.2" x2="501.2" y2="260.6" stroke="#151515" stroke-width="1.1"/>
<line x1="505.0" y1="258.2" x2="505.0" y2="260.6" stroke="#151515" stroke-width="1.1"/>
<line x1="508.8" y1="258.2" x2="508.8" y2="262.6" stroke="#151515" stroke-width="1.1"/>
<line x1="512.5" y1="258.2" x2="512.5" y2="260.6" stroke="#151515" stroke-width="1.1"/>
<line x1="516.3" y1="258.2" x2="516.3" y2="260.6" stroke="#151515" stroke-width="1.1"/>
<line x1="520.1" y1="258.2" x2="520.1" y2="260.6" stroke="#151515" stroke-width="1.1"/>
<line x1="523.8" y1="258.2" x2="523.8" y2="260.6" stroke="#151515" stroke-width="1.1"/>
<line x1="527.6" y1="258.2" x2="527.6" y2="260.6" stroke="#151515" stroke-width="1.1"/>
<line x1="531.4" y1="258.2" x2="531.4" y2="260.6" stroke="#151515" stroke-width="1.1"/>
<line x1="535.2" y1="258.2" x2="535.2" y2="260.6" stroke="#151515" stroke-width="1.1"/>
<line x1="538.9" y1="258.2" x2="538.9" y2="260.6" stroke="#151515" stroke-width="1.1"/>
<line x1="542.7" y1="258.2" x2="542.7" y2="260.6" stroke="#151515" stroke-width="1.1"/>
<line x1="546.5" y1="258.2" x2="546.5" y2="262.6" stroke="#151515" stroke-width="1.1"/>
<line x1="550.2" y1="258.2" x2="550.2" y2="260.6" stroke="#151515" stroke-width="1.1"/>
<line x1="554.0" y1="258.2" x2="554.0" y2="260.6" stroke="#151515" stroke-width="1.1"/>
<line x1="557.8" y1="258.2" x2="557.8" y2="260.6" stroke="#151515" stroke-width="1.1"/>
<line x1="561.5" y1="258.2" x2="561.5" y2="260.6" stroke="#151515" stroke-width="1.1"/>
<line x1="565.3" y1="258.2" x2="565.3" y2="260.6" stroke="#151515" stroke-width="1.1"/>
<line x1="569.1" y1="258.2" x2="569.1" y2="260.6" stroke="#151515" stroke-width="1.1"/>
<line x1="572.8" y1="258.2" x2="572.8" y2="260.6" stroke="#151515" stroke-width="1.1"/>
<line x1="576.6" y1="258.2" x2="576.6" y2="260.6" stroke="#151515" stroke-width="1.1"/>
<line x1="580.4" y1="258.2" x2="580.4" y2="260.6" stroke="#151515" stroke-width="1.1"/>
<line x1="584.1" y1="258.2" x2="584.1" y2="262.6" stroke="#151515" stroke-width="1.1"/>
<line x1="587.9" y1="258.2" x2="587.9" y2="260.6" stroke="#151515" stroke-width="1.1"/>
<line x1="591.7" y1="258.2" x2="591.7" y2="260.6" stroke="#151515" stroke-width="1.1"/>
<line x1="595.5" y1="258.2" x2="595.5" y2="260.6" stroke="#151515" stroke-width="1.1"/>
<line x1="599.2" y1="258.2" x2="599.2" y2="260.6" stroke="#151515" stroke-width="1.1"/>
<line x1="603.0" y1="258.2" x2="603.0" y2="260.6" stroke="#151515" stroke-width="1.1"/>
<line x1="606.8" y1="258.2" x2="606.8" y2="260.6" stroke="#151515" stroke-width="1.1"/>
<line x1="610.5" y1="258.2" x2="610.5" y2="260.6" stroke="#151515" stroke-width="1.1"/>
<line x1="614.3" y1="258.2" x2="614.3" y2="260.6" stroke="#151515" stroke-width="1.1"/>
<line x1="618.1" y1="258.2" x2="618.1" y2="260.6" stroke="#151515" stroke-width="1.1"/>
<line x1="621.8" y1="258.2" x2="621.8" y2="262.6" stroke="#151515" stroke-width="1.1"/>
<line x1="625.6" y1="258.2" x2="625.6" y2="260.6" stroke="#151515" stroke-width="1.1"/>
<line x1="629.4" y1="258.2" x2="629.4" y2="260.6" stroke="#151515" stroke-width="1.1"/>
<line x1="633.1" y1="258.2" x2="633.1" y2="260.6" stroke="#151515" stroke-width="1.1"/>
<line x1="636.9" y1="258.2" x2="636.9" y2="260.6" stroke="#151515" stroke-width="1.1"/>
<line x1="640.7" y1="258.2" x2="640.7" y2="260.6" stroke="#151515" stroke-width="1.1"/>
<line x1="644.5" y1="258.2" x2="644.5" y2="260.6" stroke="#151515" stroke-width="1.1"/>
<line x1="648.2" y1="258.2" x2="648.2" y2="260.6" stroke="#151515" stroke-width="1.1"/>
<line x1="652.0" y1="258.2" x2="652.0" y2="260.6" stroke="#151515" stroke-width="1.1"/>
<line x1="655.8" y1="258.2" x2="655.8" y2="260.6" stroke="#151515" stroke-width="1.1"/>
<line x1="659.5" y1="258.2" x2="659.5" y2="262.6" stroke="#151515" stroke-width="1.1"/>
<text transform="translate(395.7,275.1) scale(0.97,1)" text-anchor="middle" class="tk">50</text>
<text transform="translate(433.4,275.1) scale(0.97,1)" text-anchor="middle" class="tk">250</text>
<text transform="translate(471.1,275.1) scale(0.97,1)" text-anchor="middle" class="tk">450</text>
<text transform="translate(508.8,275.1) scale(0.97,1)" text-anchor="middle" class="tk">650</text>
<text transform="translate(546.5,275.1) scale(0.97,1)" text-anchor="middle" class="tk">850</text>
<text transform="translate(584.9,275.1) scale(0.85,1)" text-anchor="middle" class="tk">1050</text>
<text transform="translate(622.5,275.1) scale(0.85,1)" text-anchor="middle" class="tk">1250</text>
<text transform="translate(660.2,275.1) scale(0.85,1)" text-anchor="middle" class="tk">1450</text>
<line x1="392.9" y1="255.3" x2="395.7" y2="255.3" stroke="#222" stroke-width="1.1"/>
<text transform="translate(391.8,259.6) scale(1.0,1)" text-anchor="end" class="tk">0</text>
<line x1="392.9" y1="221.8" x2="395.7" y2="221.8" stroke="#222" stroke-width="1.1"/>
<text transform="translate(391.8,226.1) scale(1.0,1)" text-anchor="end" class="tk">20</text>
<line x1="392.9" y1="188.3" x2="395.7" y2="188.3" stroke="#222" stroke-width="1.1"/>
<text transform="translate(391.8,192.6) scale(1.0,1)" text-anchor="end" class="tk">40</text>
<line x1="392.9" y1="154.8" x2="395.7" y2="154.8" stroke="#222" stroke-width="1.1"/>
<text transform="translate(391.8,159.1) scale(1.0,1)" text-anchor="end" class="tk">60</text>
<line x1="392.9" y1="121.2" x2="395.7" y2="121.2" stroke="#222" stroke-width="1.1"/>
<text transform="translate(391.8,125.5) scale(1.0,1)" text-anchor="end" class="tk">80</text>
<line x1="392.9" y1="87.7" x2="395.7" y2="87.7" stroke="#222" stroke-width="1.1"/>
<text transform="translate(391.8,92.0) scale(0.83,1)" text-anchor="end" class="tk">100</text>
<line x1="392.9" y1="54.2" x2="395.7" y2="54.2" stroke="#222" stroke-width="1.1"/>
<text transform="translate(391.8,58.5) scale(0.83,1)" text-anchor="end" class="tk">120</text>
<polygon points="233.5,622.6 233.5,567.0 250.7,520.0 255.1,505.0 260.2,488.1 261.2,487.1 262.3,492.2 265.3,484.0 270.4,473.8 275.5,461.6 280.7,451.3 284.7,443.2 285.8,442.7 286.8,449.3 287.8,442.2 288.6,441.1 289.3,450.3 290.9,451.3 292.9,448.8 293.9,454.4 295.5,456.0 298.0,455.4 298.5,456.5 298.8,485.1 300.1,489.2 302.1,492.2 303.1,496.3 304.2,502.4 305.9,506.6 310.0,507.0 311.2,516.2 313.1,518.7 317.5,521.1 320.0,524.3 320.6,529.9 328.7,530.5 329.9,534.8 334.9,536.7 336.7,537.9 340.5,539.8 341.7,541.0 342.1,567.2 345.4,567.8 348.6,570.3 351.0,573.4 352.9,577.1 354.8,579.0 368.5,579.6 371.0,582.7 377.2,584.6 378.6,599.7 387.8,604.9 389.9,613.0 419.5,614.0 422.6,616.1 431.7,617.1 435.8,619.2 468.5,620.2 468.5,622.6 468.5,620.5 360.0,620.0 350.0,617.0 340.0,614.3 320.0,613.8 288.0,614.2 276.0,616.0 268.0,622.6" fill="#00ff00" />
<clipPath id="gc3"><polygon points="233.5,622.6 233.5,567.0 250.7,520.0 255.1,505.0 260.2,488.1 261.2,487.1 262.3,492.2 265.3,484.0 270.4,473.8 275.5,461.6 280.7,451.3 284.7,443.2 285.8,442.7 286.8,449.3 287.8,442.2 288.6,441.1 289.3,450.3 290.9,451.3 292.9,448.8 293.9,454.4 295.5,456.0 298.0,455.4 298.5,456.5 298.8,485.1 300.1,489.2 302.1,492.2 303.1,496.3 304.2,502.4 305.9,506.6 310.0,507.0 311.2,516.2 313.1,518.7 317.5,521.1 320.0,524.3 320.6,529.9 328.7,530.5 329.9,534.8 334.9,536.7 336.7,537.9 340.5,539.8 341.7,541.0 342.1,567.2 345.4,567.8 348.6,570.3 351.0,573.4 352.9,577.1 354.8,579.0 368.5,579.6 371.0,582.7 377.2,584.6 378.6,599.7 387.8,604.9 389.9,613.0 419.5,614.0 422.6,616.1 431.7,617.1 435.8,619.2 468.5,620.2 468.5,622.6 468.5,620.5 360.0,620.0 350.0,617.0 340.0,614.3 320.0,613.8 288.0,614.2 276.0,616.0 268.0,622.6" fill="#000" /></clipPath>
<polygon points="258.0,621.8 258.0,620.2 259.0,619.6 259.7,620.5 260.7,620.3 261.7,620.3 262.6,619.9 263.3,619.5 264.1,620.5 265.0,620.3 266.1,619.4 266.9,619.8 267.5,620.3 268.2,619.8 269.0,620.4 270.1,620.1 271.0,619.5 271.8,620.1 272.3,620.6 273.4,619.9 274.0,619.5 275.1,619.5 276.2,620.2 276.8,620.3 277.3,619.8 278.1,618.0 278.6,618.7 279.2,618.0 280.0,618.7 280.9,619.2 281.5,618.0 282.2,619.9 282.9,618.1 283.9,619.9 284.8,618.6 285.3,619.7 286.4,618.6 287.3,618.4 288.0,619.5 288.7,619.6 289.3,618.6 290.3,619.6 291.3,619.5 292.3,618.1 293.1,619.8 294.1,618.7 294.8,618.3 295.7,619.7 296.2,618.5 296.8,618.2 297.6,619.7 298.6,619.3 299.4,619.3 299.9,617.9 301.0,618.6 301.8,619.4 302.4,619.2 303.5,618.1 304.1,618.1 305.1,619.4 305.6,618.3 306.2,620.0 307.0,619.6 308.0,619.5 308.6,619.6 309.5,619.6 310.1,618.7 310.8,619.6 311.7,618.3 312.3,619.9 313.1,618.5 314.0,619.3 315.1,619.0 316.1,619.0 316.8,619.6 317.5,619.7 318.3,620.0 319.1,618.9 320.0,618.3 320.7,618.5 321.7,619.9 322.8,619.0 323.6,618.9 324.7,619.5 325.2,619.5 325.7,619.8 326.4,620.0 327.2,618.9 327.8,618.2 328.3,619.7 329.1,619.4 329.8,619.7 330.8,619.7 331.8,619.7 332.9,619.2 333.9,618.9 334.9,618.4 335.6,619.3 336.7,618.3 337.6,618.2 338.5,618.0 339.1,619.1 339.8,618.9 340.6,618.9 341.2,618.0 342.2,618.7 343.3,618.1 344.1,619.4 344.8,618.9 345.7,620.6 346.4,619.9 347.1,620.2 348.0,619.9 348.6,620.4 349.2,620.8 349.9,620.5 350.0,621.8" fill="#6a3cc8" />
<polyline points="258.0,618.6 259.0,618.5 259.7,619.4 260.7,618.9 261.7,619.2 262.6,620.3 263.3,618.8 264.1,618.7 265.0,619.3 266.1,619.4 266.9,620.4 267.5,619.0 268.2,619.8 269.0,620.9 270.1,620.7 271.0,620.5 271.8,619.4 272.3,618.3 273.4,619.3 274.0,619.7 275.1,618.7 276.2,620.9 276.8,620.8 277.3,618.6 278.1,616.1 278.6,618.3 279.2,619.0 280.0,616.0 280.9,618.1 281.5,615.8 282.2,619.0 282.9,616.2 283.9,616.6 284.8,615.9 285.3,616.8 286.4,618.8 287.3,619.9 288.0,619.8 288.7,619.1 289.3,620.5 290.3,620.3 291.3,616.1 292.3,619.7 293.1,616.1 294.1,618.1 294.8,618.0 295.7,619.2 296.2,617.6 296.8,619.0 297.6,619.0 298.6,619.5 299.4,616.2 299.9,620.2 301.0,619.3 301.8,619.0 302.4,615.8 303.5,619.9 304.1,620.2 305.1,615.9 305.6,618.6 306.2,616.4 307.0,618.1 308.0,617.5 308.6,616.7 309.5,620.1 310.1,617.9 310.8,617.4 311.7,617.5 312.3,616.9 313.1,620.2 314.0,616.4 315.1,620.5 316.1,616.3 316.8,616.5 317.5,618.5 318.3,617.8 319.1,619.8 320.0,616.3 320.7,618.4 321.7,616.3 322.8,617.8 323.6,620.5 324.7,619.4 325.2,616.5 325.7,617.0 326.4,617.4 327.2,617.0 327.8,616.9 328.3,617.9 329.1,619.8 329.8,617.4 330.8,617.5 331.8,616.5 332.9,618.2 333.9,618.3 334.9,618.6 335.6,618.1 336.7,616.1 337.6,620.2 338.5,616.1 339.1,617.3 339.8,620.1 340.6,620.4 341.2,616.7 342.2,616.5 343.3,620.4 344.1,617.1 344.8,616.1 345.7,620.1 346.4,620.6 347.1,621.0 348.0,620.1 348.6,620.1 349.2,620.9 349.9,620.6" fill="none" stroke="#6a3cc8" stroke-width="0.8" />
<polyline points="281.5,620.0 285.0,589.5 287.5,620.0" fill="none" stroke="#6a3cc8" stroke-width="1.3" />
<polyline points="339.6,620.0 341.6,589.5 343.4,620.0" fill="none" stroke="#6a3cc8" stroke-width="1.3" />
<polyline points="296.5,620.0 298.7,600.0 301.0,620.0" fill="none" stroke="#6a3cc8" stroke-width="1.3" />
<polygon points="259.2,621.8 260.6,618.9 261.2,619.4 262.6,621.8" fill="#6a3cc8" />
<polygon points="262.9,621.8 264.3,616.6 264.9,617.8 266.3,621.8" fill="#6a3cc8" />
<polygon points="270.9,621.8 272.5,618.4 273.1,619.5 274.7,621.8" fill="#6a3cc8" />
<polygon points="275.2,621.8 276.6,616.8 277.2,618.4 278.6,621.8" fill="#6a3cc8" />
<polygon points="283.7,621.8 284.7,617.9 285.3,619.5 286.3,621.8" fill="#6a3cc8" />
<polygon points="287.6,621.8 288.8,617.0 289.4,618.3 290.6,621.8" fill="#6a3cc8" />
<polygon points="292.2,621.8 293.3,619.2 293.9,619.6 295.0,621.8" fill="#6a3cc8" />
<polygon points="297.0,621.8 298.4,618.2 299.0,619.3 300.4,621.8" fill="#6a3cc8" />
<polygon points="300.6,621.8 302.5,618.0 303.1,619.5 305.0,621.8" fill="#6a3cc8" />
<polygon points="310.2,621.8 311.1,615.8 311.7,618.7 312.6,621.8" fill="#6a3cc8" />
<polygon points="318.3,621.8 319.5,615.4 320.1,618.4 321.3,621.8" fill="#6a3cc8" />
<polygon points="327.3,621.8 328.5,617.6 329.1,618.4 330.3,621.8" fill="#6a3cc8" />
<polygon points="340.3,621.8 341.3,618.8 341.9,619.2 342.9,621.8" fill="#6a3cc8" />
<polygon points="341.9,621.8 342.8,616.0 343.4,618.1 344.3,621.8" fill="#6a3cc8" />
<polygon points="348.6,621.8 350.1,617.7 350.7,618.7 352.2,621.8" fill="#6a3cc8" />
<polygon points="376.6,621.8 378.3,615.5 378.9,617.3 380.6,621.8" fill="#6a3cc8" />
<polyline points="233.6,619.1 244.3,616.1 247.4,617.6 256.6,614.5" fill="none" stroke="#5a3cb8" stroke-width="1.0" /><path d="M231.8,619.1H235.4M233.6,617.7V620.5" stroke="#5a3cb8" stroke-width="0.9" fill="none"/><path d="M232.3,617.8L234.9,620.4M232.3,620.4L234.9,617.8" stroke="#5a3cb8" stroke-width="0.5" fill="none" opacity="0.6"/><path d="M242.5,616.1H246.1M244.3,614.7V617.5" stroke="#5a3cb8" stroke-width="0.9" fill="none"/><path d="M243.0,614.8L245.6,617.4M243.0,617.4L245.6,614.8" stroke="#5a3cb8" stroke-width="0.5" fill="none" opacity="0.6"/><path d="M245.6,617.6H249.2M247.4,616.2V619.0" stroke="#5a3cb8" stroke-width="0.9" fill="none"/><path d="M246.1,616.3L248.7,618.9M246.1,618.9L248.7,616.3" stroke="#5a3cb8" stroke-width="0.5" fill="none" opacity="0.6"/><path d="M254.8,614.5H258.4M256.6,613.1V615.9" stroke="#5a3cb8" stroke-width="0.9" fill="none"/><path d="M255.3,613.2L257.9,615.8M255.3,615.8L257.9,613.2" stroke="#5a3cb8" stroke-width="0.5" fill="none" opacity="0.6"/><polyline points="350.0,618.0 355.1,620.2 369.4,608.9 372.5,615.1 377.6,619.2 387.8,601.4 390.9,619.2 415.4,619.2 422.6,617.7 430.7,617.1 435.8,619.8 450.1,619.2 459.3,619.8 468.1,617.1" fill="none" stroke="#5a3cb8" stroke-width="1.0" /><path d="M348.2,618.0H351.8M350.0,616.6V619.4" stroke="#5a3cb8" stroke-width="0.9" fill="none"/><path d="M348.7,616.7L351.3,619.3M348.7,619.3L351.3,616.7" stroke="#5a3cb8" stroke-width="0.5" fill="none" opacity="0.6"/><path d="M353.3,620.2H356.9M355.1,618.8V621.6" stroke="#5a3cb8" stroke-width="0.9" fill="none"/><path d="M353.8,618.9L356.4,621.5M353.8,621.5L356.4,618.9" stroke="#5a3cb8" stroke-width="0.5" fill="none" opacity="0.6"/><path d="M367.6,608.9H371.2M369.4,607.5V610.3" stroke="#5a3cb8" stroke-width="0.9" fill="none"/><path d="M368.1,607.6L370.7,610.2M368.1,610.2L370.7,607.6" stroke="#5a3cb8" stroke-width="0.5" fill="none" opacity="0.6"/><path d="M370.7,615.1H374.3M372.5,613.7V616.5" stroke="#5a3cb8" stroke-width="0.9" fill="none"/><path d="M371.2,613.8L373.8,616.4M371.2,616.4L373.8,613.8" stroke="#5a3cb8" stroke-width="0.5" fill="none" opacity="0.6"/><path d="M375.8,619.2H379.4M377.6,617.8V620.6" stroke="#5a3cb8" stroke-width="0.9" fill="none"/><path d="M376.3,617.9L378.9,620.5M376.3,620.5L378.9,617.9" stroke="#5a3cb8" stroke-width="0.5" fill="none" opacity="0.6"/><path d="M386.0,601.4H389.6M387.8,600.0V602.8" stroke="#5a3cb8" stroke-width="0.9" fill="none"/><path d="M386.5,600.1L389.1,602.7M386.5,602.7L389.1,600.1" stroke="#5a3cb8" stroke-width="0.5" fill="none" opacity="0.6"/><path d="M389.1,619.2H392.7M390.9,617.8V620.6" stroke="#5a3cb8" stroke-width="0.9" fill="none"/><path d="M389.6,617.9L392.2,620.5M389.6,620.5L392.2,617.9" stroke="#5a3cb8" stroke-width="0.5" fill="none" opacity="0.6"/><path d="M413.6,619.2H417.2M415.4,617.8V620.6" stroke="#5a3cb8" stroke-width="0.9" fill="none"/><path d="M414.1,617.9L416.7,620.5M414.1,620.5L416.7,617.9" stroke="#5a3cb8" stroke-width="0.5" fill="none" opacity="0.6"/><path d="M420.8,617.7H424.4M422.6,616.3V619.1" stroke="#5a3cb8" stroke-width="0.9" fill="none"/><path d="M421.3,616.4L423.9,619.0M421.3,619.0L423.9,616.4" stroke="#5a3cb8" stroke-width="0.5" fill="none" opacity="0.6"/><path d="M428.9,617.1H432.5M430.7,615.7V618.5" stroke="#5a3cb8" stroke-width="0.9" fill="none"/><path d="M429.4,615.8L432.0,618.4M429.4,618.4L432.0,615.8" stroke="#5a3cb8" stroke-width="0.5" fill="none" opacity="0.6"/><path d="M434.0,619.8H437.6M435.8,618.4V621.2" stroke="#5a3cb8" stroke-width="0.9" fill="none"/><path d="M434.5,618.5L437.1,621.1M434.5,621.1L437.1,618.5" stroke="#5a3cb8" stroke-width="0.5" fill="none" opacity="0.6"/><path d="M448.3,619.2H451.9M450.1,617.8V620.6" stroke="#5a3cb8" stroke-width="0.9" fill="none"/><path d="M448.8,617.9L451.4,620.5M448.8,620.5L451.4,617.9" stroke="#5a3cb8" stroke-width="0.5" fill="none" opacity="0.6"/><path d="M457.5,619.8H461.1M459.3,618.4V621.2" stroke="#5a3cb8" stroke-width="0.9" fill="none"/><path d="M458.0,618.5L460.6,621.1M458.0,621.1L460.6,618.5" stroke="#5a3cb8" stroke-width="0.5" fill="none" opacity="0.6"/><path d="M466.3,617.1H469.9M468.1,615.7V618.5" stroke="#5a3cb8" stroke-width="0.9" fill="none"/><path d="M466.8,615.8L469.4,618.4M466.8,618.4L469.4,615.8" stroke="#5a3cb8" stroke-width="0.5" fill="none" opacity="0.6"/><line x1="260.9" y1="621.3" x2="260.9" y2="518.9" stroke="#5a3cb8" stroke-width="1.1"/><path d="M259.1,518.9H262.7M260.9,517.5V520.3" stroke="#5a3cb8" stroke-width="0.9" fill="none"/><path d="M259.6,517.6L262.2,520.2M259.6,520.2L262.2,517.6" stroke="#5a3cb8" stroke-width="0.5" fill="none" opacity="0.6"/><line x1="264.6" y1="621.3" x2="264.6" y2="606.9" stroke="#5a3cb8" stroke-width="1.1"/><path d="M262.8,606.9H266.4M264.6,605.5V608.3" stroke="#5a3cb8" stroke-width="0.9" fill="none"/><path d="M263.3,605.6L265.9,608.2M263.3,608.2L265.9,605.6" stroke="#5a3cb8" stroke-width="0.5" fill="none" opacity="0.6"/><line x1="272.8" y1="621.3" x2="272.8" y2="603.8" stroke="#5a3cb8" stroke-width="1.1"/><path d="M271.0,603.8H274.6M272.8,602.4V605.2" stroke="#5a3cb8" stroke-width="0.9" fill="none"/><path d="M271.5,602.5L274.1,605.1M271.5,605.1L274.1,602.5" stroke="#5a3cb8" stroke-width="0.5" fill="none" opacity="0.6"/><line x1="276.9" y1="621.3" x2="276.9" y2="607.9" stroke="#5a3cb8" stroke-width="1.1"/><path d="M275.1,607.9H278.7M276.9,606.5V609.3" stroke="#5a3cb8" stroke-width="0.9" fill="none"/><path d="M275.6,606.6L278.2,609.2M275.6,609.2L278.2,606.6" stroke="#5a3cb8" stroke-width="0.5" fill="none" opacity="0.6"/><line x1="285.0" y1="621.3" x2="285.0" y2="589.5" stroke="#5a3cb8" stroke-width="1.1"/><path d="M283.2,589.5H286.8M285.0,588.1V590.9" stroke="#5a3cb8" stroke-width="0.9" fill="none"/><path d="M283.7,588.2L286.3,590.8M283.7,590.8L286.3,588.2" stroke="#5a3cb8" stroke-width="0.5" fill="none" opacity="0.6"/><line x1="289.1" y1="621.3" x2="289.1" y2="553.7" stroke="#5a3cb8" stroke-width="1.1"/><path d="M287.3,553.7H290.9M289.1,552.3V555.1" stroke="#5a3cb8" stroke-width="0.9" fill="none"/><path d="M287.8,552.4L290.4,555.0M287.8,555.0L290.4,552.4" stroke="#5a3cb8" stroke-width="0.5" fill="none" opacity="0.6"/><line x1="293.6" y1="621.3" x2="293.6" y2="570.1" stroke="#5a3cb8" stroke-width="1.1"/><path d="M291.8,570.1H295.4M293.6,568.7V571.5" stroke="#5a3cb8" stroke-width="0.9" fill="none"/><path d="M292.3,568.8L294.9,571.4M292.3,571.4L294.9,568.8" stroke="#5a3cb8" stroke-width="0.5" fill="none" opacity="0.6"/><line x1="298.7" y1="621.3" x2="298.7" y2="485.2" stroke="#5a3cb8" stroke-width="1.1"/><path d="M296.9,485.2H300.5M298.7,483.8V486.6" stroke="#5a3cb8" stroke-width="0.9" fill="none"/><path d="M297.4,483.9L300.0,486.5M297.4,486.5L300.0,483.9" stroke="#5a3cb8" stroke-width="0.5" fill="none" opacity="0.6"/><line x1="302.8" y1="621.3" x2="302.8" y2="566.6" stroke="#5a3cb8" stroke-width="1.1"/><path d="M301.0,566.6H304.6M302.8,565.2V568.0" stroke="#5a3cb8" stroke-width="0.9" fill="none"/><path d="M301.5,565.3L304.1,567.9M301.5,567.9L304.1,565.3" stroke="#5a3cb8" stroke-width="0.5" fill="none" opacity="0.6"/><line x1="311.4" y1="621.3" x2="311.4" y2="574.2" stroke="#5a3cb8" stroke-width="1.1"/><path d="M309.6,574.2H313.2M311.4,572.8V575.6" stroke="#5a3cb8" stroke-width="0.9" fill="none"/><path d="M310.1,572.9L312.7,575.5M310.1,575.5L312.7,572.9" stroke="#5a3cb8" stroke-width="0.5" fill="none" opacity="0.6"/><line x1="319.8" y1="621.3" x2="319.8" y2="586.4" stroke="#5a3cb8" stroke-width="1.1"/><path d="M318.0,586.4H321.6M319.8,585.0V587.8" stroke="#5a3cb8" stroke-width="0.9" fill="none"/><path d="M318.5,585.1L321.1,587.7M318.5,587.7L321.1,585.1" stroke="#5a3cb8" stroke-width="0.5" fill="none" opacity="0.6"/><line x1="328.8" y1="621.3" x2="328.8" y2="597.7" stroke="#5a3cb8" stroke-width="1.1"/><path d="M327.0,597.7H330.6M328.8,596.3V599.1" stroke="#5a3cb8" stroke-width="0.9" fill="none"/><path d="M327.5,596.4L330.1,599.0M327.5,599.0L330.1,596.4" stroke="#5a3cb8" stroke-width="0.5" fill="none" opacity="0.6"/><line x1="341.6" y1="621.3" x2="341.6" y2="589.5" stroke="#5a3cb8" stroke-width="1.1"/><path d="M339.8,589.5H343.4M341.6,588.1V590.9" stroke="#5a3cb8" stroke-width="0.9" fill="none"/><path d="M340.3,588.2L342.9,590.8M340.3,590.8L342.9,588.2" stroke="#5a3cb8" stroke-width="0.5" fill="none" opacity="0.6"/><line x1="343.1" y1="621.3" x2="343.1" y2="549.6" stroke="#5a3cb8" stroke-width="1.1"/><path d="M341.3,549.6H344.9M343.1,548.2V551.0" stroke="#5a3cb8" stroke-width="0.9" fill="none"/><path d="M341.8,548.3L344.4,550.9M341.8,550.9L344.4,548.3" stroke="#5a3cb8" stroke-width="0.5" fill="none" opacity="0.6"/><line x1="350.4" y1="621.3" x2="350.4" y2="600.8" stroke="#5a3cb8" stroke-width="1.1"/><path d="M348.6,600.8H352.2M350.4,599.4V602.2" stroke="#5a3cb8" stroke-width="0.9" fill="none"/><path d="M349.1,599.5L351.7,602.1M349.1,602.1L351.7,599.5" stroke="#5a3cb8" stroke-width="0.5" fill="none" opacity="0.6"/><line x1="378.6" y1="621.3" x2="378.6" y2="574.2" stroke="#5a3cb8" stroke-width="1.1"/><path d="M376.8,574.2H380.4M378.6,572.8V575.6" stroke="#5a3cb8" stroke-width="0.9" fill="none"/><path d="M377.3,572.9L379.9,575.5M377.3,575.5L379.9,572.9" stroke="#5a3cb8" stroke-width="0.5" fill="none" opacity="0.6"/>
<g clip-path="url(#gc3)"><polyline points="233.6,619.1 244.3,616.1 247.4,617.6 256.6,614.5" fill="none" stroke="#464a96" stroke-width="1.0" /><path d="M231.8,619.1H235.4M233.6,617.7V620.5" stroke="#464a96" stroke-width="0.9" fill="none"/><path d="M232.3,617.8L234.9,620.4M232.3,620.4L234.9,617.8" stroke="#464a96" stroke-width="0.5" fill="none" opacity="0.6"/><path d="M242.5,616.1H246.1M244.3,614.7V617.5" stroke="#464a96" stroke-width="0.9" fill="none"/><path d="M243.0,614.8L245.6,617.4M243.0,617.4L245.6,614.8" stroke="#464a96" stroke-width="0.5" fill="none" opacity="0.6"/><path d="M245.6,617.6H249.2M247.4,616.2V619.0" stroke="#464a96" stroke-width="0.9" fill="none"/><path d="M246.1,616.3L248.7,618.9M246.1,618.9L248.7,616.3" stroke="#464a96" stroke-width="0.5" fill="none" opacity="0.6"/><path d="M254.8,614.5H258.4M256.6,613.1V615.9" stroke="#464a96" stroke-width="0.9" fill="none"/><path d="M255.3,613.2L257.9,615.8M255.3,615.8L257.9,613.2" stroke="#464a96" stroke-width="0.5" fill="none" opacity="0.6"/><polyline points="350.0,618.0 355.1,620.2 369.4,608.9 372.5,615.1 377.6,619.2 387.8,601.4 390.9,619.2 415.4,619.2 422.6,617.7 430.7,617.1 435.8,619.8 450.1,619.2 459.3,619.8 468.1,617.1" fill="none" stroke="#464a96" stroke-width="1.0" /><path d="M348.2,618.0H351.8M350.0,616.6V619.4" stroke="#464a96" stroke-width="0.9" fill="none"/><path d="M348.7,616.7L351.3,619.3M348.7,619.3L351.3,616.7" stroke="#464a96" stroke-width="0.5" fill="none" opacity="0.6"/><path d="M353.3,620.2H356.9M355.1,618.8V621.6" stroke="#464a96" stroke-width="0.9" fill="none"/><path d="M353.8,618.9L356.4,621.5M353.8,621.5L356.4,618.9" stroke="#464a96" stroke-width="0.5" fill="none" opacity="0.6"/><path d="M367.6,608.9H371.2M369.4,607.5V610.3" stroke="#464a96" stroke-width="0.9" fill="none"/><path d="M368.1,607.6L370.7,610.2M368.1,610.2L370.7,607.6" stroke="#464a96" stroke-width="0.5" fill="none" opacity="0.6"/><path d="M370.7,615.1H374.3M372.5,613.7V616.5" stroke="#464a96" stroke-width="0.9" fill="none"/><path d="M371.2,613.8L373.8,616.4M371.2,616.4L373.8,613.8" stroke="#464a96" stroke-width="0.5" fill="none" opacity="0.6"/><path d="M375.8,619.2H379.4M377.6,617.8V620.6" stroke="#464a96" stroke-width="0.9" fill="none"/><path d="M376.3,617.9L378.9,620.5M376.3,620.5L378.9,617.9" stroke="#464a96" stroke-width="0.5" fill="none" opacity="0.6"/><path d="M386.0,601.4H389.6M387.8,600.0V602.8" stroke="#464a96" stroke-width="0.9" fill="none"/><path d="M386.5,600.1L389.1,602.7M386.5,602.7L389.1,600.1" stroke="#464a96" stroke-width="0.5" fill="none" opacity="0.6"/><path d="M389.1,619.2H392.7M390.9,617.8V620.6" stroke="#464a96" stroke-width="0.9" fill="none"/><path d="M389.6,617.9L392.2,620.5M389.6,620.5L392.2,617.9" stroke="#464a96" stroke-width="0.5" fill="none" opacity="0.6"/><path d="M413.6,619.2H417.2M415.4,617.8V620.6" stroke="#464a96" stroke-width="0.9" fill="none"/><path d="M414.1,617.9L416.7,620.5M414.1,620.5L416.7,617.9" stroke="#464a96" stroke-width="0.5" fill="none" opacity="0.6"/><path d="M420.8,617.7H424.4M422.6,616.3V619.1" stroke="#464a96" stroke-width="0.9" fill="none"/><path d="M421.3,616.4L423.9,619.0M421.3,619.0L423.9,616.4" stroke="#464a96" stroke-width="0.5" fill="none" opacity="0.6"/><path d="M428.9,617.1H432.5M430.7,615.7V618.5" stroke="#464a96" stroke-width="0.9" fill="none"/><path d="M429.4,615.8L432.0,618.4M429.4,618.4L432.0,615.8" stroke="#464a96" stroke-width="0.5" fill="none" opacity="0.6"/><path d="M434.0,619.8H437.6M435.8,618.4V621.2" stroke="#464a96" stroke-width="0.9" fill="none"/><path d="M434.5,618.5L437.1,621.1M434.5,621.1L437.1,618.5" stroke="#464a96" stroke-width="0.5" fill="none" opacity="0.6"/><path d="M448.3,619.2H451.9M450.1,617.8V620.6" stroke="#464a96" stroke-width="0.9" fill="none"/><path d="M448.8,617.9L451.4,620.5M448.8,620.5L451.4,617.9" stroke="#464a96" stroke-width="0.5" fill="none" opacity="0.6"/><path d="M457.5,619.8H461.1M459.3,618.4V621.2" stroke="#464a96" stroke-width="0.9" fill="none"/><path d="M458.0,618.5L460.6,621.1M458.0,621.1L460.6,618.5" stroke="#464a96" stroke-width="0.5" fill="none" opacity="0.6"/><path d="M466.3,617.1H469.9M468.1,615.7V618.5" stroke="#464a96" stroke-width="0.9" fill="none"/><path d="M466.8,615.8L469.4,618.4M466.8,618.4L469.4,615.8" stroke="#464a96" stroke-width="0.5" fill="none" opacity="0.6"/><line x1="260.9" y1="621.3" x2="260.9" y2="518.9" stroke="#464a96" stroke-width="1.1"/><path d="M259.1,518.9H262.7M260.9,517.5V520.3" stroke="#464a96" stroke-width="0.9" fill="none"/><path d="M259.6,517.6L262.2,520.2M259.6,520.2L262.2,517.6" stroke="#464a96" stroke-width="0.5" fill="none" opacity="0.6"/><line x1="264.6" y1="621.3" x2="264.6" y2="606.9" stroke="#464a96" stroke-width="1.1"/><path d="M262.8,606.9H266.4M264.6,605.5V608.3" stroke="#464a96" stroke-width="0.9" fill="none"/><path d="M263.3,605.6L265.9,608.2M263.3,608.2L265.9,605.6" stroke="#464a96" stroke-width="0.5" fill="none" opacity="0.6"/><line x1="272.8" y1="621.3" x2="272.8" y2="603.8" stroke="#464a96" stroke-width="1.1"/><path d="M271.0,603.8H274.6M272.8,602.4V605.2" stroke="#464a96" stroke-width="0.9" fill="none"/><path d="M271.5,602.5L274.1,605.1M271.5,605.1L274.1,602.5" stroke="#464a96" stroke-width="0.5" fill="none" opacity="0.6"/><line x1="276.9" y1="621.3" x2="276.9" y2="607.9" stroke="#464a96" stroke-width="1.1"/><path d="M275.1,607.9H278.7M276.9,606.5V609.3" stroke="#464a96" stroke-width="0.9" fill="none"/><path d="M275.6,606.6L278.2,609.2M275.6,609.2L278.2,606.6" stroke="#464a96" stroke-width="0.5" fill="none" opacity="0.6"/><line x1="285.0" y1="621.3" x2="285.0" y2="589.5" stroke="#464a96" stroke-width="1.1"/><path d="M283.2,589.5H286.8M285.0,588.1V590.9" stroke="#464a96" stroke-width="0.9" fill="none"/><path d="M283.7,588.2L286.3,590.8M283.7,590.8L286.3,588.2" stroke="#464a96" stroke-width="0.5" fill="none" opacity="0.6"/><line x1="289.1" y1="621.3" x2="289.1" y2="553.7" stroke="#464a96" stroke-width="1.1"/><path d="M287.3,553.7H290.9M289.1,552.3V555.1" stroke="#464a96" stroke-width="0.9" fill="none"/><path d="M287.8,552.4L290.4,555.0M287.8,555.0L290.4,552.4" stroke="#464a96" stroke-width="0.5" fill="none" opacity="0.6"/><line x1="293.6" y1="621.3" x2="293.6" y2="570.1" stroke="#464a96" stroke-width="1.1"/><path d="M291.8,570.1H295.4M293.6,568.7V571.5" stroke="#464a96" stroke-width="0.9" fill="none"/><path d="M292.3,568.8L294.9,571.4M292.3,571.4L294.9,568.8" stroke="#464a96" stroke-width="0.5" fill="none" opacity="0.6"/><line x1="298.7" y1="621.3" x2="298.7" y2="485.2" stroke="#464a96" stroke-width="1.1"/><path d="M296.9,485.2H300.5M298.7,483.8V486.6" stroke="#464a96" stroke-width="0.9" fill="none"/><path d="M297.4,483.9L300.0,486.5M297.4,486.5L300.0,483.9" stroke="#464a96" stroke-width="0.5" fill="none" opacity="0.6"/><line x1="302.8" y1="621.3" x2="302.8" y2="566.6" stroke="#464a96" stroke-width="1.1"/><path d="M301.0,566.6H304.6M302.8,565.2V568.0" stroke="#464a96" stroke-width="0.9" fill="none"/><path d="M301.5,565.3L304.1,567.9M301.5,567.9L304.1,565.3" stroke="#464a96" stroke-width="0.5" fill="none" opacity="0.6"/><line x1="311.4" y1="621.3" x2="311.4" y2="574.2" stroke="#464a96" stroke-width="1.1"/><path d="M309.6,574.2H313.2M311.4,572.8V575.6" stroke="#464a96" stroke-width="0.9" fill="none"/><path d="M310.1,572.9L312.7,575.5M310.1,575.5L312.7,572.9" stroke="#464a96" stroke-width="0.5" fill="none" opacity="0.6"/><line x1="319.8" y1="621.3" x2="319.8" y2="586.4" stroke="#464a96" stroke-width="1.1"/><path d="M318.0,586.4H321.6M319.8,585.0V587.8" stroke="#464a96" stroke-width="0.9" fill="none"/><path d="M318.5,585.1L321.1,587.7M318.5,587.7L321.1,585.1" stroke="#464a96" stroke-width="0.5" fill="none" opacity="0.6"/><line x1="328.8" y1="621.3" x2="328.8" y2="597.7" stroke="#464a96" stroke-width="1.1"/><path d="M327.0,597.7H330.6M328.8,596.3V599.1" stroke="#464a96" stroke-width="0.9" fill="none"/><path d="M327.5,596.4L330.1,599.0M327.5,599.0L330.1,596.4" stroke="#464a96" stroke-width="0.5" fill="none" opacity="0.6"/><line x1="341.6" y1="621.3" x2="341.6" y2="589.5" stroke="#464a96" stroke-width="1.1"/><path d="M339.8,589.5H343.4M341.6,588.1V590.9" stroke="#464a96" stroke-width="0.9" fill="none"/><path d="M340.3,588.2L342.9,590.8M340.3,590.8L342.9,588.2" stroke="#464a96" stroke-width="0.5" fill="none" opacity="0.6"/><line x1="343.1" y1="621.3" x2="343.1" y2="549.6" stroke="#464a96" stroke-width="1.1"/><path d="M341.3,549.6H344.9M343.1,548.2V551.0" stroke="#464a96" stroke-width="0.9" fill="none"/><path d="M341.8,548.3L344.4,550.9M341.8,550.9L344.4,548.3" stroke="#464a96" stroke-width="0.5" fill="none" opacity="0.6"/><line x1="350.4" y1="621.3" x2="350.4" y2="600.8" stroke="#464a96" stroke-width="1.1"/><path d="M348.6,600.8H352.2M350.4,599.4V602.2" stroke="#464a96" stroke-width="0.9" fill="none"/><path d="M349.1,599.5L351.7,602.1M349.1,602.1L351.7,599.5" stroke="#464a96" stroke-width="0.5" fill="none" opacity="0.6"/><line x1="378.6" y1="621.3" x2="378.6" y2="574.2" stroke="#464a96" stroke-width="1.1"/><path d="M376.8,574.2H380.4M378.6,572.8V575.6" stroke="#464a96" stroke-width="0.9" fill="none"/><path d="M377.3,572.9L379.9,575.5M377.3,575.5L379.9,572.9" stroke="#464a96" stroke-width="0.5" fill="none" opacity="0.6"/></g>
<line x1="217.9" y1="408.4" x2="494.9" y2="408.4" stroke="#555" stroke-width="1.2"/>
<line x1="494.9" y1="407.8" x2="494.9" y2="624.7" stroke="#2a2a2a" stroke-width="1.3"/>
<line x1="217.9" y1="407.8" x2="217.9" y2="629.0" stroke="#777" stroke-width="1.3"/>
<line x1="217.9" y1="624.7" x2="495.5" y2="624.7" stroke="#151515" stroke-width="1.4"/>
<line x1="221.9" y1="624.7" x2="221.9" y2="627.6" stroke="#151515" stroke-width="1.1"/>
<line x1="225.8" y1="624.7" x2="225.8" y2="627.6" stroke="#151515" stroke-width="1.1"/>
<line x1="229.8" y1="624.7" x2="229.8" y2="627.6" stroke="#151515" stroke-width="1.1"/>
<line x1="233.7" y1="624.7" x2="233.7" y2="627.6" stroke="#151515" stroke-width="1.1"/>
<line x1="237.7" y1="624.7" x2="237.7" y2="627.6" stroke="#151515" stroke-width="1.1"/>
<line x1="241.6" y1="624.7" x2="241.6" y2="627.6" stroke="#151515" stroke-width="1.1"/>
<line x1="245.6" y1="624.7" x2="245.6" y2="627.6" stroke="#151515" stroke-width="1.1"/>
<line x1="249.6" y1="624.7" x2="249.6" y2="627.6" stroke="#151515" stroke-width="1.1"/>
<line x1="253.5" y1="624.7" x2="253.5" y2="627.6" stroke="#151515" stroke-width="1.1"/>
<line x1="257.5" y1="624.7" x2="257.5" y2="629.0" stroke="#151515" stroke-width="1.1"/>
<line x1="261.4" y1="624.7" x2="261.4" y2="627.6" stroke="#151515" stroke-width="1.1"/>
<line x1="265.4" y1="624.7" x2="265.4" y2="627.6" stroke="#151515" stroke-width="1.1"/>
<line x1="269.3" y1="624.7" x2="269.3" y2="627.6" stroke="#151515" stroke-width="1.1"/>
<line x1="273.3" y1="624.7" x2="273.3" y2="627.6" stroke="#151515" stroke-width="1.1"/>
<line x1="277.3" y1="624.7" x2="277.3" y2="627.6" stroke="#151515" stroke-width="1.1"/>
<line x1="281.2" y1="624.7" x2="281.2" y2="627.6" stroke="#151515" stroke-width="1.1"/>
<line x1="285.2" y1="624.7" x2="285.2" y2="627.6" stroke="#151515" stroke-width="1.1"/>
<line x1="289.1" y1="624.7" x2="289.1" y2="627.6" stroke="#151515" stroke-width="1.1"/>
<line x1="293.1" y1="624.7" x2="293.1" y2="627.6" stroke="#151515" stroke-width="1.1"/>
<line x1="297.0" y1="624.7" x2="297.0" y2="629.0" stroke="#151515" stroke-width="1.1"/>
<line x1="301.0" y1="624.7" x2="301.0" y2="627.6" stroke="#151515" stroke-width="1.1"/>
<line x1="305.0" y1="624.7" x2="305.0" y2="627.6" stroke="#151515" stroke-width="1.1"/>
<line x1="308.9" y1="624.7" x2="308.9" y2="627.6" stroke="#151515" stroke-width="1.1"/>
<line x1="312.9" y1="624.7" x2="312.9" y2="627.6" stroke="#151515" stroke-width="1.1"/>
<line x1="316.8" y1="624.7" x2="316.8" y2="627.6" stroke="#151515" stroke-width="1.1"/>
<line x1="320.8" y1="624.7" x2="320.8" y2="627.6" stroke="#151515" stroke-width="1.1"/>
<line x1="324.7" y1="624.7" x2="324.7" y2="627.6" stroke="#151515" stroke-width="1.1"/>
<line x1="328.7" y1="624.7" x2="328.7" y2="627.6" stroke="#151515" stroke-width="1.1"/>
<line x1="332.7" y1="624.7" x2="332.7" y2="627.6" stroke="#151515" stroke-width="1.1"/>
<line x1="336.6" y1="624.7" x2="336.6" y2="629.0" stroke="#151515" stroke-width="1.1"/>
<line x1="340.6" y1="624.7" x2="340.6" y2="627.6" stroke="#151515" stroke-width="1.1"/>
<line x1="344.5" y1="624.7" x2="344.5" y2="627.6" stroke="#151515" stroke-width="1.1"/>
<line x1="348.5" y1="624.7" x2="348.5" y2="627.6" stroke="#151515" stroke-width="1.1"/>
<line x1="352.4" y1="624.7" x2="352.4" y2="627.6" stroke="#151515" stroke-width="1.1"/>
<line x1="356.4" y1="624.7" x2="356.4" y2="627.6" stroke="#151515" stroke-width="1.1"/>
<line x1="360.4" y1="624.7" x2="360.4" y2="627.6" stroke="#151515" stroke-width="1.1"/>
<line x1="364.3" y1="624.7" x2="364.3" y2="627.6" stroke="#151515" stroke-width="1.1"/>
<line x1="368.3" y1="624.7" x2="368.3" y2="627.6" stroke="#151515" stroke-width="1.1"/>
<line x1="372.2" y1="624.7" x2="372.2" y2="627.6" stroke="#151515" stroke-width="1.1"/>
<line x1="376.2" y1="624.7" x2="376.2" y2="629.0" stroke="#151515" stroke-width="1.1"/>
<line x1="380.1" y1="624.7" x2="380.1" y2="627.6" stroke="#151515" stroke-width="1.1"/>
<line x1="384.1" y1="624.7" x2="384.1" y2="627.6" stroke="#151515" stroke-width="1.1"/>
<line x1="388.1" y1="624.7" x2="388.1" y2="627.6" stroke="#151515" stroke-width="1.1"/>
<line x1="392.0" y1="624.7" x2="392.0" y2="627.6" stroke="#151515" stroke-width="1.1"/>
<line x1="396.0" y1="624.7" x2="396.0" y2="627.6" stroke="#151515" stroke-width="1.1"/>
<line x1="399.9" y1="624.7" x2="399.9" y2="627.6" stroke="#151515" stroke-width="1.1"/>
<line x1="403.9" y1="624.7" x2="403.9" y2="627.6" stroke="#151515" stroke-width="1.1"/>
<line x1="407.8" y1="624.7" x2="407.8" y2="627.6" stroke="#151515" stroke-width="1.1"/>
<line x1="411.8" y1="624.7" x2="411.8" y2="627.6" stroke="#151515" stroke-width="1.1"/>
<line x1="415.8" y1="624.7" x2="415.8" y2="629.0" stroke="#151515" stroke-width="1.1"/>
<line x1="419.7" y1="624.7" x2="419.7" y2="627.6" stroke="#151515" stroke-width="1.1"/>
<line x1="423.7" y1="624.7" x2="423.7" y2="627.6" stroke="#151515" stroke-width="1.1"/>
<line x1="427.6" y1="624.7" x2="427.6" y2="627.6" stroke="#151515" stroke-width="1.1"/>
<line x1="431.6" y1="624.7" x2="431.6" y2="627.6" stroke="#151515" stroke-width="1.1"/>
<line x1="435.5" y1="624.7" x2="435.5" y2="627.6" stroke="#151515" stroke-width="1.1"/>
<line x1="439.5" y1="624.7" x2="439.5" y2="627.6" stroke="#151515" stroke-width="1.1"/>
<line x1="443.4" y1="624.7" x2="443.4" y2="627.6" stroke="#151515" stroke-width="1.1"/>
<line x1="447.4" y1="624.7" x2="447.4" y2="627.6" stroke="#151515" stroke-width="1.1"/>
<line x1="451.4" y1="624.7" x2="451.4" y2="627.6" stroke="#151515" stroke-width="1.1"/>
<line x1="455.3" y1="624.7" x2="455.3" y2="629.0" stroke="#151515" stroke-width="1.1"/>
<line x1="459.3" y1="624.7" x2="459.3" y2="627.6" stroke="#151515" stroke-width="1.1"/>
<line x1="463.2" y1="624.7" x2="463.2" y2="627.6" stroke="#151515" stroke-width="1.1"/>
<line x1="467.2" y1="624.7" x2="467.2" y2="627.6" stroke="#151515" stroke-width="1.1"/>
<line x1="471.1" y1="624.7" x2="471.1" y2="627.6" stroke="#151515" stroke-width="1.1"/>
<line x1="475.1" y1="624.7" x2="475.1" y2="627.6" stroke="#151515" stroke-width="1.1"/>
<line x1="479.1" y1="624.7" x2="479.1" y2="627.6" stroke="#151515" stroke-width="1.1"/>
<line x1="483.0" y1="624.7" x2="483.0" y2="627.6" stroke="#151515" stroke-width="1.1"/>
<line x1="487.0" y1="624.7" x2="487.0" y2="627.6" stroke="#151515" stroke-width="1.1"/>
<line x1="490.9" y1="624.7" x2="490.9" y2="627.6" stroke="#151515" stroke-width="1.1"/>
<line x1="494.9" y1="624.7" x2="494.9" y2="629.0" stroke="#151515" stroke-width="1.1"/>
<text transform="translate(217.9,642.4) scale(0.97,1)" text-anchor="middle" class="tk">50</text>
<text transform="translate(257.5,642.4) scale(0.97,1)" text-anchor="middle" class="tk">250</text>
<text transform="translate(297.0,642.4) scale(0.97,1)" text-anchor="middle" class="tk">450</text>
<text transform="translate(336.6,642.4) scale(0.97,1)" text-anchor="middle" class="tk">650</text>
<text transform="translate(376.2,642.4) scale(0.97,1)" text-anchor="middle" class="tk">850</text>
<text transform="translate(416.4,642.4) scale(0.85,1)" text-anchor="middle" class="tk">1050</text>
<text transform="translate(456.0,642.4) scale(0.85,1)" text-anchor="middle" class="tk">1250</text>
<text transform="translate(495.6,642.4) scale(0.85,1)" text-anchor="middle" class="tk">1450</text>
<line x1="215.1" y1="621.9" x2="217.9" y2="621.9" stroke="#222" stroke-width="1.1"/>
<text transform="translate(214.0,626.2) scale(1.0,1)" text-anchor="end" class="tk">0</text>
<line x1="215.1" y1="569.1" x2="217.9" y2="569.1" stroke="#222" stroke-width="1.1"/>
<text transform="translate(214.0,573.4) scale(1.0,1)" text-anchor="end" class="tk">20</text>
<line x1="215.1" y1="516.4" x2="217.9" y2="516.4" stroke="#222" stroke-width="1.1"/>
<text transform="translate(214.0,520.6) scale(1.0,1)" text-anchor="end" class="tk">40</text>
<line x1="215.1" y1="463.6" x2="217.9" y2="463.6" stroke="#222" stroke-width="1.1"/>
<text transform="translate(214.0,467.9) scale(1.0,1)" text-anchor="end" class="tk">60</text>
<line x1="215.1" y1="410.8" x2="217.9" y2="410.8" stroke="#222" stroke-width="1.1"/>
<text transform="translate(214.0,415.1) scale(1.0,1)" text-anchor="end" class="tk">80</text>
<text x="41.20" y="21.90" style="font-family:'Liberation Sans',sans-serif;font-weight:bold;font-size:11.3px;fill:#111" textLength="57.21" lengthAdjust="spacingAndGlyphs" stroke="#111" stroke-width="0.45">Observed</text>
<text x="105.38" y="21.90" style="font-family:'Liberation Sans',sans-serif;font-weight:bold;font-size:11.3px;fill:#111" textLength="46.52" lengthAdjust="spacingAndGlyphs" stroke="#111" stroke-width="0.45">Relative</text>
<text x="159.00" y="21.90" style="font-family:'Liberation Sans',sans-serif;font-weight:bold;font-size:11.3px;fill:#111" textLength="65.79" lengthAdjust="spacingAndGlyphs" stroke="#111" stroke-width="0.45">Abundance</text>
<text x="230.47" y="21.90" style="font-family:'Liberation Sans',sans-serif;font-weight:bold;font-size:11.3px;fill:#111" textLength="23.30" lengthAdjust="spacingAndGlyphs" stroke="#111" stroke-width="0.45">Plot</text>
<text x="387.11" y="21.40" style="font-family:'Liberation Sans',sans-serif;font-weight:bold;font-size:11.3px;fill:#111" textLength="56.60" lengthAdjust="spacingAndGlyphs" stroke="#111" stroke-width="0.45">Observed</text>
<text x="450.34" y="21.40" style="font-family:'Liberation Sans',sans-serif;font-weight:bold;font-size:11.3px;fill:#111" textLength="43.44" lengthAdjust="spacingAndGlyphs" stroke="#111" stroke-width="0.45">Relative</text>
<text x="502.29" y="21.40" style="font-family:'Liberation Sans',sans-serif;font-weight:bold;font-size:11.3px;fill:#111" textLength="67.01" lengthAdjust="spacingAndGlyphs" stroke="#111" stroke-width="0.45">Abundance</text>
<text x="574.89" y="21.40" style="font-family:'Liberation Sans',sans-serif;font-weight:bold;font-size:11.3px;fill:#111" textLength="22.78" lengthAdjust="spacingAndGlyphs" stroke="#111" stroke-width="0.45">Plot</text>
<text x="209.09" y="376.60" style="font-family:'Liberation Sans',sans-serif;font-weight:bold;font-size:11.3px;fill:#111" textLength="59.26" lengthAdjust="spacingAndGlyphs" stroke="#111" stroke-width="0.45">Observed</text>
<text x="274.65" y="376.60" style="font-family:'Liberation Sans',sans-serif;font-weight:bold;font-size:11.3px;fill:#111" textLength="48.06" lengthAdjust="spacingAndGlyphs" stroke="#111" stroke-width="0.45">Relative</text>
<text x="330.38" y="376.60" style="font-family:'Liberation Sans',sans-serif;font-weight:bold;font-size:11.3px;fill:#111" textLength="69.94" lengthAdjust="spacingAndGlyphs" stroke="#111" stroke-width="0.45">Abundance</text>
<text x="405.61" y="376.60" style="font-family:'Liberation Sans',sans-serif;font-weight:bold;font-size:11.3px;fill:#111" textLength="24.76" lengthAdjust="spacingAndGlyphs" stroke="#111" stroke-width="0.45">Plot</text>
<text x="79.18" y="36.20" style="font-family:'Liberation Sans',sans-serif;font-weight:normal;font-size:8.4px;fill:#111" textLength="37.99" lengthAdjust="spacingAndGlyphs" stroke="#111" stroke-width="0.35">Source:P</text>
<text x="125.26" y="36.20" style="font-family:'Liberation Sans',sans-serif;font-weight:normal;font-size:8.4px;fill:#111" textLength="26.06" lengthAdjust="spacingAndGlyphs" stroke="#111" stroke-width="0.35">DG51,</text>
<text x="155.14" y="36.20" style="font-family:'Liberation Sans',sans-serif;font-weight:normal;font-size:8.4px;fill:#111" textLength="38.37" lengthAdjust="spacingAndGlyphs" stroke="#111" stroke-width="0.35">Replicate</text>
<text x="213.13" y="36.20" style="font-family:'Liberation Sans',sans-serif;font-weight:normal;font-size:8.4px;fill:#111" textLength="4.24" lengthAdjust="spacingAndGlyphs" stroke="#111" stroke-width="0.35">1</text>
<line x1="118.70" y1="33.40" x2="124.10" y2="33.40" stroke="#111" stroke-width="1.3"/>
<line x1="200.80" y1="33.40" x2="206.90" y2="33.40" stroke="#111" stroke-width="1.3"/>
<text x="423.49" y="35.80" style="font-family:'Liberation Sans',sans-serif;font-weight:normal;font-size:8.4px;fill:#111" textLength="37.47" lengthAdjust="spacingAndGlyphs" stroke="#111" stroke-width="0.35">Source:P</text>
<text x="469.57" y="35.80" style="font-family:'Liberation Sans',sans-serif;font-weight:normal;font-size:8.4px;fill:#111" textLength="25.63" lengthAdjust="spacingAndGlyphs" stroke="#111" stroke-width="0.35">DG51,</text>
<text x="500.12" y="35.80" style="font-family:'Liberation Sans',sans-serif;font-weight:normal;font-size:8.4px;fill:#111" textLength="37.20" lengthAdjust="spacingAndGlyphs" stroke="#111" stroke-width="0.35">Repicate</text>
<text x="555.24" y="35.80" style="font-family:'Liberation Sans',sans-serif;font-weight:normal;font-size:8.4px;fill:#111" textLength="6.23" lengthAdjust="spacingAndGlyphs" stroke="#111" stroke-width="0.35">2</text>
<line x1="462.60" y1="33.00" x2="468.50" y2="33.00" stroke="#111" stroke-width="1.3"/>
<line x1="543.70" y1="33.00" x2="549.60" y2="33.00" stroke="#111" stroke-width="1.3"/>
<text x="247.07" y="391.90" style="font-family:'Liberation Sans',sans-serif;font-weight:normal;font-size:8.4px;fill:#111" textLength="39.21" lengthAdjust="spacingAndGlyphs" stroke="#111" stroke-width="0.35">Source:P</text>
<text x="295.14" y="391.90" style="font-family:'Liberation Sans',sans-serif;font-weight:normal;font-size:8.4px;fill:#111" textLength="26.59" lengthAdjust="spacingAndGlyphs" stroke="#111" stroke-width="0.35">DG51,</text>
<text x="327.53" y="391.90" style="font-family:'Liberation Sans',sans-serif;font-weight:normal;font-size:8.4px;fill:#111" textLength="38.98" lengthAdjust="spacingAndGlyphs" stroke="#111" stroke-width="0.35">Replicate</text>
<text x="386.25" y="391.90" style="font-family:'Liberation Sans',sans-serif;font-weight:normal;font-size:8.4px;fill:#111" textLength="6.67" lengthAdjust="spacingAndGlyphs" stroke="#111" stroke-width="0.35">3</text>
<line x1="288.00" y1="389.10" x2="294.40" y2="389.10" stroke="#111" stroke-width="1.3"/>
<line x1="373.50" y1="389.10" x2="379.90" y2="389.10" stroke="#111" stroke-width="1.3"/>
<text transform="translate(18.40,192.75) rotate(-90)" style="font-family:'Liberation Serif',serif;font-weight:normal;font-size:10.2px;fill:#111" textLength="30.57" lengthAdjust="spacingAndGlyphs" stroke="#111" stroke-width="0.1">Relative</text>
<text transform="translate(18.40,157.10) rotate(-90)" style="font-family:'Liberation Serif',serif;font-weight:normal;font-size:10.2px;fill:#111" textLength="44.73" lengthAdjust="spacingAndGlyphs" stroke="#111" stroke-width="0.1">Abundance</text>
<text transform="translate(366.20,198.38) rotate(-90)" style="font-family:'Liberation Serif',serif;font-weight:normal;font-size:10.2px;fill:#111" textLength="33.42" lengthAdjust="spacingAndGlyphs" stroke="#111" stroke-width="0.1">Relative</text>
<text transform="translate(366.20,160.50) rotate(-90)" style="font-family:'Liberation Serif',serif;font-weight:normal;font-size:10.2px;fill:#111" textLength="45.23" lengthAdjust="spacingAndGlyphs" stroke="#111" stroke-width="0.1">Abundance</text>
<text transform="translate(184.20,563.97) rotate(-90)" style="font-family:'Liberation Serif',serif;font-weight:normal;font-size:10.2px;fill:#111" textLength="32.91" lengthAdjust="spacingAndGlyphs" stroke="#111" stroke-width="0.1">Relative</text>
<text transform="translate(184.20,527.01) rotate(-90)" style="font-family:'Liberation Serif',serif;font-weight:normal;font-size:10.2px;fill:#111" textLength="49.78" lengthAdjust="spacingAndGlyphs" stroke="#111" stroke-width="0.1">Abundance</text>
<text x="140.50" y="296.60" style="font-family:'Liberation Serif',serif;font-weight:normal;font-size:8.8px;fill:#111" textLength="14.89" lengthAdjust="spacingAndGlyphs" stroke="#111" stroke-width="0.4">m/z</text>
<text x="158.90" y="296.60" style="font-family:'Liberation Serif',serif;font-weight:normal;font-size:8.8px;fill:#111" textLength="23.15" lengthAdjust="spacingAndGlyphs" stroke="#111" stroke-width="0.4">value</text>
<text x="185.40" y="296.60" style="font-family:'Liberation Serif',serif;font-weight:normal;font-size:8.8px;fill:#111" textLength="7.75" lengthAdjust="spacingAndGlyphs" stroke="#111" stroke-width="0.4">in</text>
<text x="198.62" y="296.60" style="font-family:'Liberation Serif',serif;font-weight:normal;font-size:8.8px;fill:#111" textLength="27.42" lengthAdjust="spacingAndGlyphs" stroke="#111" stroke-width="0.4">Dalton</text>
<text x="484.91" y="294.10" style="font-family:'Liberation Serif',serif;font-weight:normal;font-size:8.8px;fill:#111" textLength="14.48" lengthAdjust="spacingAndGlyphs" stroke="#111" stroke-width="0.4">m/z</text>
<text x="502.90" y="294.10" style="font-family:'Liberation Serif',serif;font-weight:normal;font-size:8.8px;fill:#111" textLength="22.44" lengthAdjust="spacingAndGlyphs" stroke="#111" stroke-width="0.4">value</text>
<text x="529.40" y="294.10" style="font-family:'Liberation Serif',serif;font-weight:normal;font-size:8.8px;fill:#111" textLength="7.75" lengthAdjust="spacingAndGlyphs" stroke="#111" stroke-width="0.4">in</text>
<text x="542.62" y="294.10" style="font-family:'Liberation Serif',serif;font-weight:normal;font-size:8.8px;fill:#111" textLength="27.42" lengthAdjust="spacingAndGlyphs" stroke="#111" stroke-width="0.4">Dalton</text>
<text x="311.39" y="662.00" style="font-family:'Liberation Serif',serif;font-weight:normal;font-size:8.8px;fill:#111" textLength="15.51" lengthAdjust="spacingAndGlyphs" stroke="#111" stroke-width="0.4">m/z</text>
<text x="330.60" y="662.00" style="font-family:'Liberation Serif',serif;font-weight:normal;font-size:8.8px;fill:#111" textLength="24.17" lengthAdjust="spacingAndGlyphs" stroke="#111" stroke-width="0.4">value</text>
<text x="358.19" y="662.00" style="font-family:'Liberation Serif',serif;font-weight:normal;font-size:8.8px;fill:#111" textLength="8.28" lengthAdjust="spacingAndGlyphs" stroke="#111" stroke-width="0.4">in</text>
<text x="371.90" y="662.00" style="font-family:'Liberation Serif',serif;font-weight:normal;font-size:8.8px;fill:#111" textLength="29.35" lengthAdjust="spacingAndGlyphs" stroke="#111" stroke-width="0.4">Dalton</text>
<text x="16.23" y="317.10" style="font-family:'Liberation Sans',sans-serif;font-weight:normal;font-size:7.6px;fill:#111" textLength="96.36" lengthAdjust="spacingAndGlyphs" stroke="#111" stroke-width="0.12">95% Credible Interval:</text>
<rect x="112.2" y="308.4" width="8.8" height="7.9" fill="#00ff00"/>
<text x="121.33" y="317.10" style="font-family:'Liberation Sans',sans-serif;font-weight:normal;font-size:7.6px;fill:#111" textLength="138.95" lengthAdjust="spacingAndGlyphs" stroke="#111" stroke-width="0.12">, Observed Relative Abundance:</text>
<line x1="261.20" y1="314.00" x2="266.00" y2="314.00" stroke="#5a3cb8" stroke-width="1.3"/>
<line x1="271.80" y1="314.00" x2="277.80" y2="314.00" stroke="#5a3cb8" stroke-width="1.3"/>
<path d="M267.5,313.6H270.3M268.9,312.2V315.0M267.9,312.6L269.9,314.6M269.9,312.6L267.9,314.6" stroke="#5a3cb8" stroke-width="0.7"/>
<text x="362.64" y="313.90" style="font-family:'Liberation Sans',sans-serif;font-weight:normal;font-size:7.6px;fill:#111" textLength="95.45" lengthAdjust="spacingAndGlyphs" stroke="#111" stroke-width="0.12">95% Credible Interval:</text>
<rect x="457.9" y="305.9" width="7.8" height="7.5" fill="#00ff00"/>
<text x="466.44" y="313.90" style="font-family:'Liberation Sans',sans-serif;font-weight:normal;font-size:7.6px;fill:#111" textLength="136.92" lengthAdjust="spacingAndGlyphs" stroke="#111" stroke-width="0.12">, Observed Relative Abundance:</text>
<line x1="604.40" y1="310.60" x2="609.20" y2="310.60" stroke="#5a3cb8" stroke-width="1.3"/>
<line x1="615.30" y1="310.60" x2="621.30" y2="310.60" stroke="#5a3cb8" stroke-width="1.3"/>
<path d="M610.8,310.2H613.6M612.2,308.8V311.6M611.2,309.2L613.2,311.2M613.2,309.2L611.2,311.2" stroke="#5a3cb8" stroke-width="0.7"/>
<text x="183.42" y="683.10" style="font-family:'Liberation Sans',sans-serif;font-weight:normal;font-size:7.6px;fill:#111" textLength="99.91" lengthAdjust="spacingAndGlyphs" stroke="#111" stroke-width="0.12">95% Credible Interval:</text>
<rect x="282.8" y="674.4" width="8.2" height="8.2" fill="#00ff00"/>
<text x="291.69" y="683.10" style="font-family:'Liberation Sans',sans-serif;font-weight:normal;font-size:7.6px;fill:#111" textLength="144.92" lengthAdjust="spacingAndGlyphs" stroke="#111" stroke-width="0.12">, Observed Relative Abundance:</text>
<line x1="437.20" y1="679.60" x2="442.00" y2="679.60" stroke="#5a3cb8" stroke-width="1.3"/>
<line x1="448.80" y1="679.60" x2="454.80" y2="679.60" stroke="#5a3cb8" stroke-width="1.3"/>
<path d="M444.0,679.2H446.8M445.4,677.8V680.6M444.4,678.2L446.4,680.2M446.4,678.2L444.4,680.2" stroke="#5a3cb8" stroke-width="0.7"/>
<text x="117.44" y="338.50" style="font-family:'Liberation Serif',serif;font-weight:normal;font-size:16.5px;fill:#111" textLength="104.64" lengthAdjust="spacingAndGlyphs" >(a) Replicate 1</text>
<text x="455.13" y="338.70" style="font-family:'Liberation Serif',serif;font-weight:normal;font-size:16.5px;fill:#111" textLength="107.25" lengthAdjust="spacingAndGlyphs" >(b) Replicate 2</text>
<text x="287.74" y="704.90" style="font-family:'Liberation Serif',serif;font-weight:normal;font-size:16.5px;fill:#111" textLength="106.37" lengthAdjust="spacingAndGlyphs" >(b) Replicate 3</text>
</svg>
</body></html>
